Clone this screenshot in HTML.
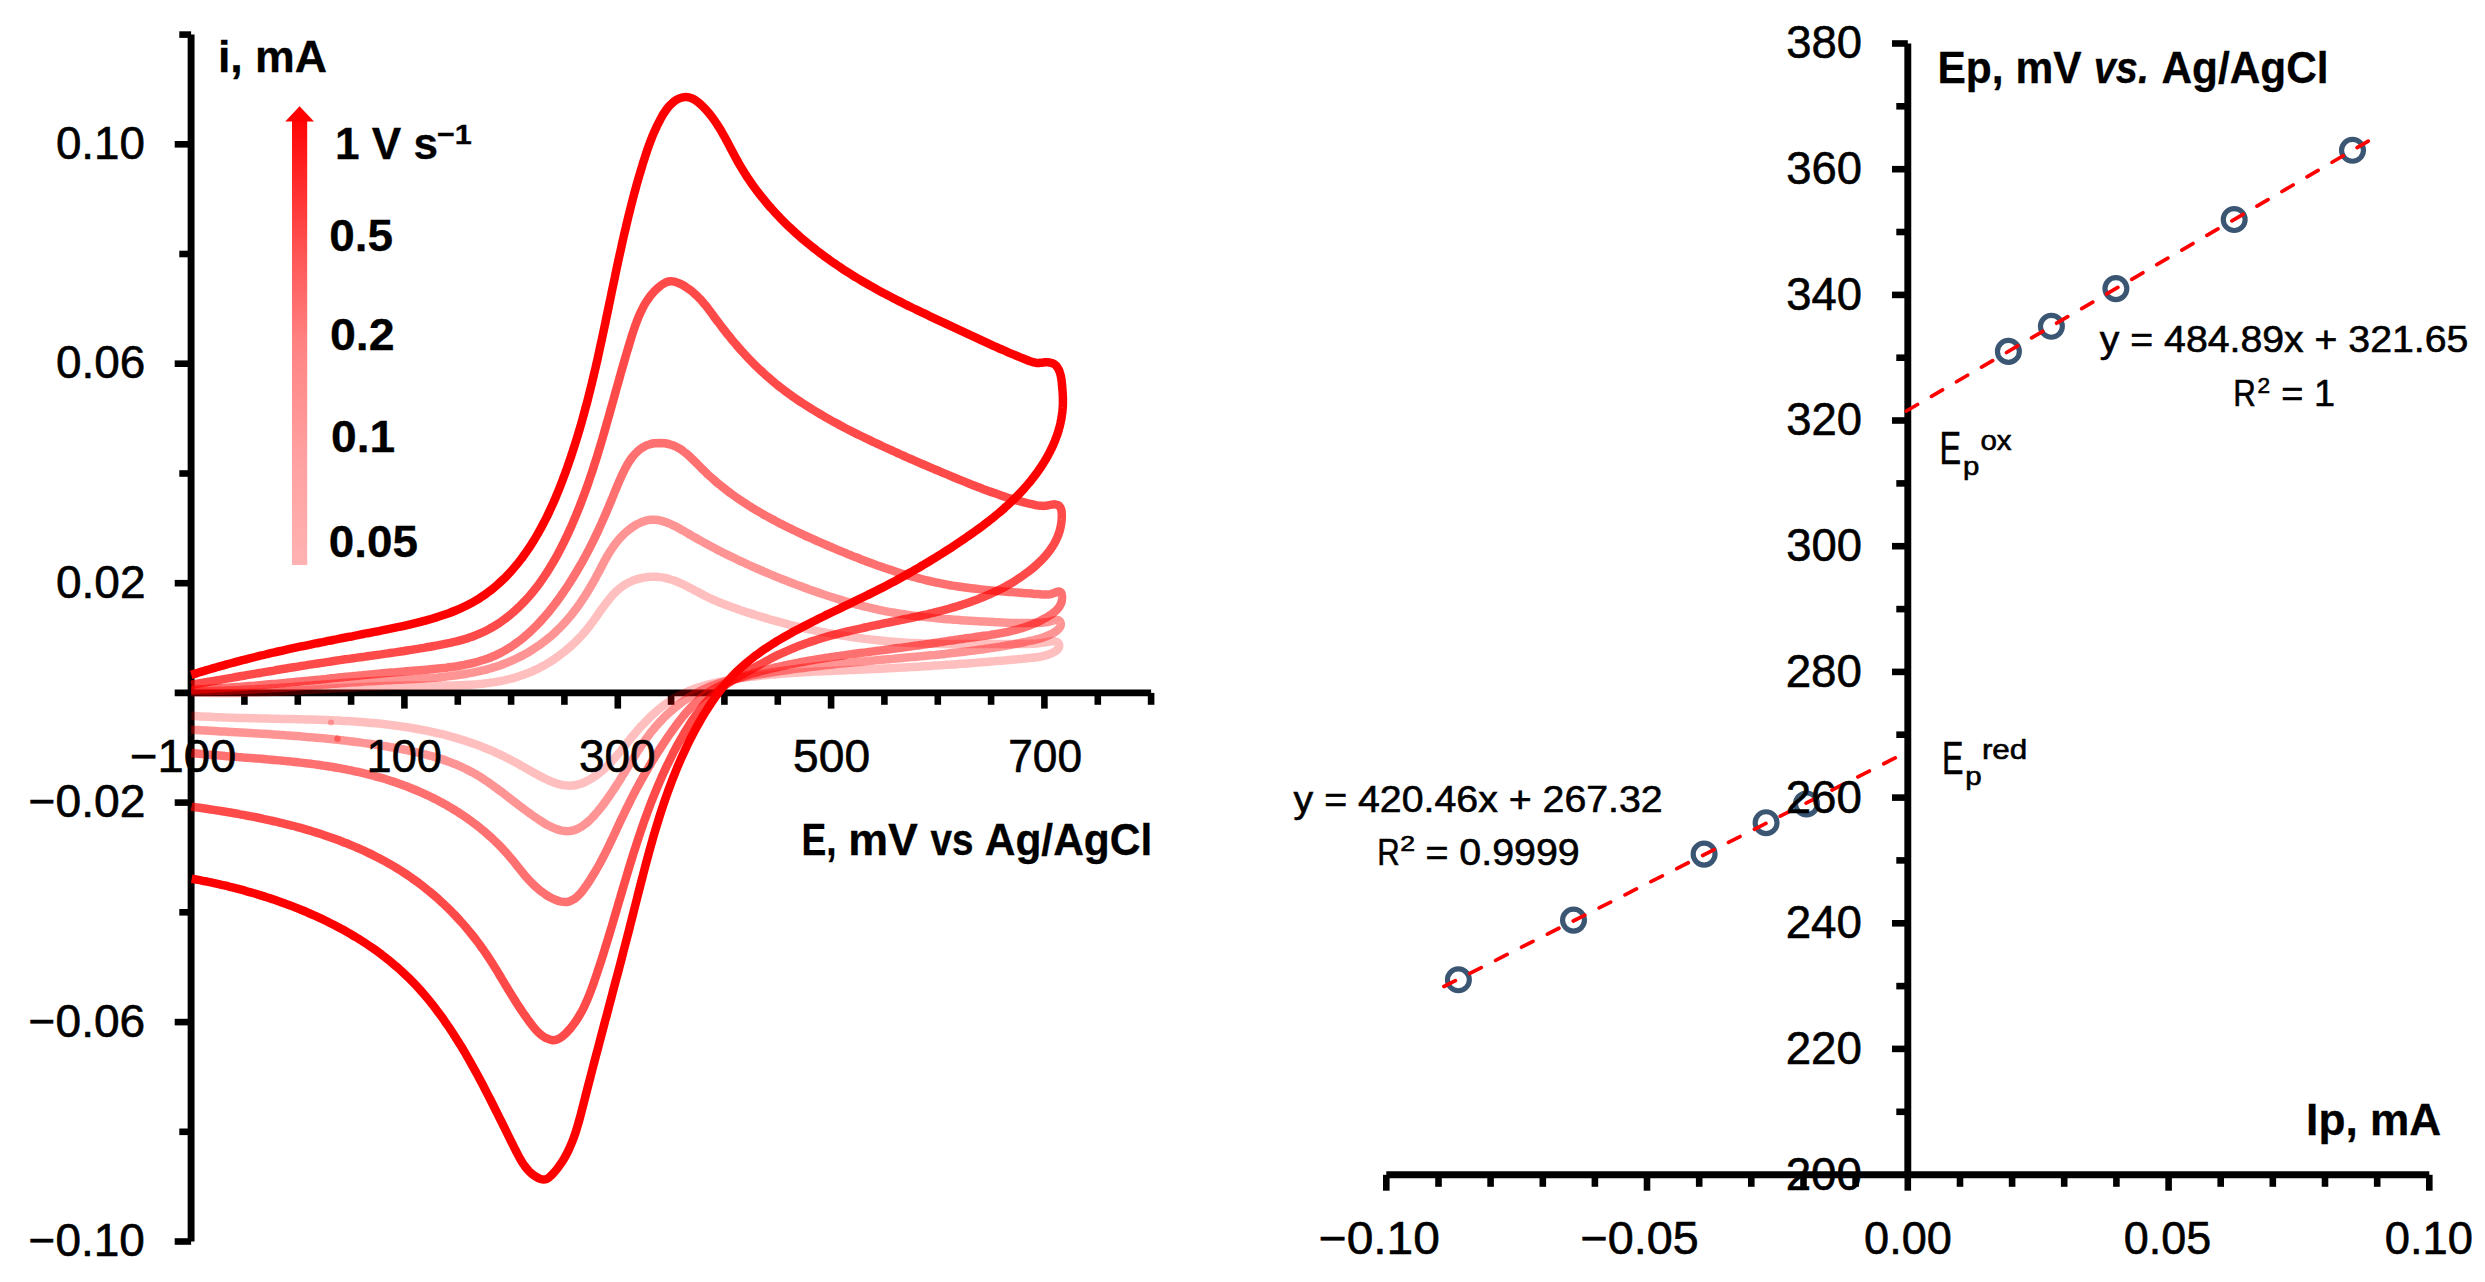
<!DOCTYPE html>
<html lang="en"><head><meta charset="utf-8"><title>Cyclic voltammetry</title>
<style>
html,body{margin:0;padding:0;background:#fff;}
body{width:2485px;height:1282px;overflow:hidden;}
svg{display:block;}
text{font-family:"Liberation Sans", sans-serif;fill:#000;stroke:#000;stroke-width:.6px;}
.b{font-weight:bold;stroke-width:.3px;}
.i{font-style:italic;}
</style></head><body>
<svg width="2485" height="1282" viewBox="0 0 2485 1282">
<defs>
<linearGradient id="ag" x1="0" y1="0" x2="0" y2="1">
<stop offset="0" stop-color="#ff0505"/><stop offset=".3" stop-color="#ff5555"/><stop offset=".5" stop-color="#ff8282"/><stop offset=".75" stop-color="#ffa0a0"/><stop offset="1" stop-color="#ffb2b2"/>
</linearGradient>
</defs>
<rect width="2485" height="1282" fill="#fff"/>

<g id="left-axes" stroke="#000" stroke-width="6.9" fill="none">
<line x1="191.1" y1="34.6" x2="191.1" y2="1241.5"/>
<line x1="179.3" y1="34.6" x2="191.1" y2="34.6" stroke-width="6.6"/>
<line x1="174.7" y1="144.3" x2="191.1" y2="144.3" stroke-width="6.6"/>
<line x1="179.3" y1="254.0" x2="191.1" y2="254.0" stroke-width="6.6"/>
<line x1="174.7" y1="363.7" x2="191.1" y2="363.7" stroke-width="6.6"/>
<line x1="179.3" y1="473.5" x2="191.1" y2="473.5" stroke-width="6.6"/>
<line x1="174.7" y1="583.2" x2="191.1" y2="583.2" stroke-width="6.6"/>
<line x1="174.7" y1="802.6" x2="191.1" y2="802.6" stroke-width="6.6"/>
<line x1="179.3" y1="912.3" x2="191.1" y2="912.3" stroke-width="6.6"/>
<line x1="174.7" y1="1022.1" x2="191.1" y2="1022.1" stroke-width="6.6"/>
<line x1="179.3" y1="1131.8" x2="191.1" y2="1131.8" stroke-width="6.6"/>
<line x1="174.7" y1="1241.5" x2="191.1" y2="1241.5" stroke-width="6.6"/>
<line x1="174.7" y1="692.9" x2="1151.1" y2="692.9"/>
<line x1="244.4" y1="692.9" x2="244.4" y2="704.8" stroke-width="6.6"/>
<line x1="297.8" y1="692.9" x2="297.8" y2="704.8" stroke-width="6.6"/>
<line x1="351.1" y1="692.9" x2="351.1" y2="704.8" stroke-width="6.6"/>
<line x1="404.4" y1="692.9" x2="404.4" y2="708.6" stroke-width="6.6"/>
<line x1="457.8" y1="692.9" x2="457.8" y2="704.8" stroke-width="6.6"/>
<line x1="511.1" y1="692.9" x2="511.1" y2="704.8" stroke-width="6.6"/>
<line x1="564.4" y1="692.9" x2="564.4" y2="704.8" stroke-width="6.6"/>
<line x1="617.8" y1="692.9" x2="617.8" y2="708.6" stroke-width="6.6"/>
<line x1="671.1" y1="692.9" x2="671.1" y2="704.8" stroke-width="6.6"/>
<line x1="724.4" y1="692.9" x2="724.4" y2="704.8" stroke-width="6.6"/>
<line x1="777.8" y1="692.9" x2="777.8" y2="704.8" stroke-width="6.6"/>
<line x1="831.1" y1="692.9" x2="831.1" y2="708.6" stroke-width="6.6"/>
<line x1="884.4" y1="692.9" x2="884.4" y2="704.8" stroke-width="6.6"/>
<line x1="937.8" y1="692.9" x2="937.8" y2="704.8" stroke-width="6.6"/>
<line x1="991.1" y1="692.9" x2="991.1" y2="704.8" stroke-width="6.6"/>
<line x1="1044.4" y1="692.9" x2="1044.4" y2="708.6" stroke-width="6.6"/>
<line x1="1097.8" y1="692.9" x2="1097.8" y2="704.8" stroke-width="6.6"/>
<line x1="1151.1" y1="692.9" x2="1151.1" y2="704.8" stroke-width="6.6"/>
</g>
<g id="arrow"><rect x="292" y="120" width="15.2" height="445" fill="url(#ag)"/><path d="M285.2 121.5L299.6 106.3L314 121.5Z" fill="#ff0000"/></g>
<circle cx="331" cy="722.5" r="3" fill="#ff9090" opacity=".6"/><circle cx="337.5" cy="738.7" r="3.2" fill="#ff7070" opacity=".7"/>
<g id="cv" fill="none" stroke="#ff0000" stroke-width="8.5" stroke-linecap="butt" stroke-linejoin="round">
<path d="M191.2 692.3C192.0 692.3 194.4 692.4 195.9 692.5C197.5 692.6 199.1 692.6 200.7 692.7C202.2 692.7 203.8 692.8 205.4 692.8C207.0 692.8 208.5 692.9 210.1 692.9C211.7 692.9 213.2 692.9 214.8 693.0C216.3 693.0 217.9 693.0 219.5 693.0C221.0 693.0 222.6 693.0 224.1 693.0C225.7 693.0 227.2 693.0 228.8 693.0C230.3 693.0 231.9 693.0 233.4 693.0C235.0 693.0 236.5 692.9 238.1 692.9C239.6 692.9 241.1 692.9 242.7 692.8C244.2 692.8 245.8 692.8 247.3 692.7C248.8 692.7 250.4 692.7 251.9 692.6C253.4 692.6 255.0 692.5 256.5 692.5C258.0 692.4 259.6 692.4 261.1 692.3C262.6 692.3 264.1 692.2 265.7 692.2C267.2 692.1 268.7 692.0 270.2 692.0C271.8 691.9 273.3 691.8 274.8 691.8C276.3 691.7 277.9 691.6 279.4 691.5C280.9 691.5 282.4 691.4 283.9 691.3C285.5 691.2 287.0 691.2 288.5 691.1C290.0 691.0 291.5 690.9 293.1 690.8C294.6 690.8 296.1 690.7 297.6 690.6C299.1 690.5 300.6 690.4 302.2 690.3C303.7 690.2 305.2 690.2 306.7 690.1C308.2 690.0 309.8 689.9 311.3 689.8C312.8 689.7 314.3 689.6 315.8 689.5C317.3 689.4 318.8 689.4 320.4 689.3C321.9 689.2 323.4 689.1 324.9 689.0C326.4 688.9 328.0 688.8 329.5 688.7C331.0 688.6 332.5 688.6 334.0 688.5C335.5 688.4 337.1 688.3 338.6 688.2C340.1 688.1 341.6 688.0 343.1 687.9C344.7 687.9 346.2 687.8 347.7 687.7C349.2 687.6 350.8 687.5 352.3 687.5C353.8 687.4 355.3 687.3 356.9 687.2C358.4 687.1 359.9 687.1 361.4 687.0C363.0 686.9 364.5 686.9 366.0 686.8C367.6 686.7 369.1 686.7 370.6 686.6C372.2 686.5 373.7 686.5 375.2 686.4C376.8 686.3 378.3 686.3 379.8 686.2C381.4 686.2 382.9 686.1 384.5 686.1C386.0 686.0 387.5 686.0 389.1 685.9C390.6 685.9 392.2 685.9 393.7 685.8C395.3 685.8 396.8 685.8 398.4 685.7C399.9 685.7 401.5 685.7 403.0 685.7C404.6 685.6 406.2 685.6 407.7 685.6C409.3 685.6 410.8 685.6 412.4 685.6C414.0 685.6 415.5 685.6 417.1 685.6C418.7 685.6 420.2 685.6 421.8 685.6C423.4 685.6 425.0 685.6 426.5 685.6C428.1 685.6 429.7 685.6 431.2 685.6C432.8 685.6 434.4 685.6 436.0 685.6C437.5 685.6 439.1 685.6 440.7 685.6C442.3 685.6 443.8 685.6 445.4 685.5C447.0 685.5 448.5 685.5 450.1 685.5C451.7 685.4 453.2 685.4 454.8 685.4C456.4 685.3 457.9 685.3 459.5 685.2C461.1 685.2 462.6 685.1 464.2 685.0C465.7 685.0 467.3 684.9 468.8 684.8C470.4 684.7 471.9 684.6 473.5 684.5C475.0 684.4 476.6 684.3 478.1 684.1C479.6 684.0 481.2 683.8 482.7 683.7C484.2 683.5 485.8 683.3 487.3 683.1C488.8 682.9 490.3 682.7 491.8 682.5C493.3 682.3 494.8 682.1 496.3 681.8C497.8 681.5 499.3 681.3 500.8 681.0C502.3 680.7 503.8 680.4 505.3 680.0C506.7 679.7 508.2 679.4 509.7 679.0C511.1 678.6 512.6 678.2 514.1 677.8C515.5 677.4 517.0 677.0 518.4 676.5C519.8 676.0 521.3 675.6 522.7 675.1C524.1 674.6 525.5 674.0 526.9 673.5C528.3 672.9 529.7 672.4 531.1 671.8C532.5 671.2 533.9 670.5 535.2 669.9C536.6 669.3 538.0 668.6 539.3 667.9C540.7 667.2 542.0 666.5 543.3 665.8C544.7 665.0 546.0 664.3 547.3 663.5C548.6 662.7 549.9 661.9 551.2 661.1C552.5 660.3 553.8 659.4 555.0 658.6C556.3 657.7 557.5 656.8 558.8 655.9C560.0 655.0 561.2 654.1 562.4 653.2C563.7 652.2 564.9 651.3 566.1 650.3C567.2 649.3 568.4 648.3 569.6 647.3C570.7 646.3 571.9 645.2 573.0 644.2C574.1 643.1 575.3 642.0 576.4 640.9C577.5 639.8 578.6 638.7 579.6 637.6C580.7 636.5 581.8 635.3 582.8 634.1C583.8 633.0 584.9 631.8 585.9 630.6C586.9 629.4 587.9 628.1 588.9 626.9C589.8 625.7 590.8 624.4 591.7 623.1C592.7 621.9 593.6 620.6 594.5 619.3C595.5 618.0 596.4 616.7 597.3 615.4C598.2 614.1 599.1 612.8 600.0 611.5C600.9 610.2 601.8 608.9 602.7 607.7C603.7 606.4 604.6 605.1 605.5 603.9C606.4 602.6 607.4 601.4 608.4 600.2C609.3 599.0 610.3 597.8 611.3 596.7C612.3 595.5 613.3 594.4 614.4 593.3C615.4 592.3 616.5 591.2 617.6 590.2C618.7 589.2 619.9 588.2 621.1 587.3C622.3 586.4 623.5 585.6 624.7 584.8C626.0 584.0 627.3 583.2 628.7 582.5C630.0 581.8 631.4 581.2 632.8 580.6C634.2 580.1 635.7 579.6 637.2 579.1C638.7 578.7 640.2 578.3 641.7 578.0C643.2 577.6 644.7 577.4 646.3 577.2C647.8 577.0 649.4 576.8 650.9 576.8C652.5 576.7 654.0 576.7 655.6 576.7C657.1 576.8 658.6 576.9 660.2 577.1C661.7 577.3 663.2 577.5 664.7 577.9C666.1 578.2 667.6 578.5 669.1 579.0C670.5 579.4 672.0 579.8 673.4 580.3C674.8 580.8 676.3 581.4 677.7 582.0C679.1 582.6 680.5 583.2 681.9 583.8C683.3 584.5 684.7 585.2 686.1 585.8C687.5 586.5 688.9 587.3 690.3 588.0C691.7 588.7 693.0 589.4 694.4 590.2C695.8 590.9 697.2 591.7 698.6 592.4C700.0 593.1 701.3 593.9 702.7 594.6C704.1 595.3 705.5 596.0 706.9 596.7C708.3 597.4 709.7 598.1 711.1 598.8C712.6 599.4 714.0 600.1 715.4 600.7C716.8 601.3 718.3 601.9 719.7 602.5C721.1 603.0 722.6 603.6 724.0 604.2C725.4 604.7 726.9 605.3 728.3 605.8C729.8 606.3 731.2 606.9 732.7 607.4C734.1 607.9 735.6 608.4 737.1 608.9C738.5 609.4 740.0 609.9 741.4 610.4C742.9 610.9 744.3 611.4 745.8 611.9C747.3 612.4 748.7 612.8 750.2 613.3C751.7 613.8 753.1 614.3 754.6 614.7C756.0 615.2 757.5 615.6 759.0 616.1C760.5 616.5 761.9 617.0 763.4 617.4C764.9 617.9 766.3 618.3 767.8 618.7C769.3 619.2 770.8 619.6 772.2 620.0C773.7 620.4 775.2 620.8 776.7 621.2C778.2 621.6 779.6 622.0 781.1 622.4C782.6 622.8 784.1 623.2 785.6 623.6C787.0 624.0 788.5 624.4 790.0 624.8C791.5 625.1 793.0 625.5 794.5 625.9C796.0 626.2 797.5 626.6 799.0 626.9C800.5 627.3 801.9 627.6 803.4 628.0C804.9 628.3 806.4 628.6 807.9 629.0C809.4 629.3 810.9 629.6 812.4 629.9C813.9 630.3 815.4 630.6 816.9 630.9C818.4 631.2 819.9 631.5 821.4 631.8C822.9 632.1 824.4 632.4 826.0 632.7C827.5 633.0 829.0 633.2 830.5 633.5C832.0 633.8 833.5 634.1 835.0 634.3C836.5 634.6 838.0 634.8 839.6 635.1C841.1 635.3 842.6 635.6 844.1 635.8C845.6 636.1 847.1 636.3 848.7 636.5C850.2 636.8 851.7 637.0 853.2 637.2C854.7 637.4 856.3 637.7 857.8 637.9C859.3 638.1 860.8 638.3 862.4 638.5C863.9 638.7 865.4 638.9 866.9 639.1C868.5 639.2 870.0 639.4 871.5 639.6C873.1 639.8 874.6 639.9 876.1 640.1C877.7 640.3 879.2 640.4 880.7 640.6C882.3 640.7 883.8 640.9 885.3 641.0C886.9 641.2 888.4 641.3 890.0 641.4C891.5 641.6 893.0 641.7 894.6 641.8C896.1 641.9 897.7 642.1 899.2 642.2C900.7 642.3 902.3 642.4 903.8 642.5C905.4 642.6 906.9 642.7 908.5 642.8C910.0 642.8 911.6 642.9 913.1 643.0C914.7 643.1 916.2 643.1 917.8 643.2C919.3 643.3 920.9 643.3 922.4 643.4C924.0 643.5 925.6 643.5 927.1 643.6C928.7 643.6 930.2 643.6 931.8 643.7C933.3 643.7 934.9 643.8 936.4 643.8C938.0 643.8 939.5 643.8 941.1 643.9C942.7 643.9 944.2 643.9 945.8 643.9C947.3 643.9 948.9 644.0 950.4 644.0C952.0 644.0 953.5 644.0 955.1 644.0C956.6 644.0 958.1 644.0 959.7 644.0C961.2 644.0 962.8 644.0 964.3 644.0C965.9 644.0 967.4 644.0 968.9 644.0C970.5 644.0 972.0 644.0 973.5 644.0C975.1 644.0 976.6 644.0 978.1 644.0C979.6 644.0 981.2 644.0 982.7 644.0C984.2 644.0 985.7 644.0 987.2 644.0C988.7 644.0 990.2 644.0 991.8 644.0C993.3 644.0 994.8 644.0 996.3 644.0C997.8 644.0 999.2 644.0 1000.7 644.0C1002.2 644.0 1003.7 644.0 1005.2 644.0C1006.7 644.0 1008.1 644.0 1009.6 644.0C1011.1 644.0 1012.6 644.0 1014.0 644.0C1015.5 644.1 1016.9 644.1 1018.4 644.1C1019.9 644.1 1021.3 644.1 1022.8 644.1C1024.3 644.1 1025.8 644.1 1027.3 644.0C1028.8 644.0 1030.3 643.9 1031.9 643.8C1033.5 643.7 1035.0 643.6 1036.7 643.5C1038.3 643.3 1040.0 643.1 1041.7 642.9C1043.4 642.7 1045.9 642.3 1046.8 642.1C1047.7 642.0 1046.7 642.1 1046.9 642.1C1047.2 642.1 1047.8 642.0 1048.2 641.9C1048.7 641.8 1049.2 641.7 1049.6 641.6C1050.1 641.6 1050.6 641.5 1051.0 641.4C1051.5 641.4 1052.1 641.3 1052.3 641.3C1052.5 641.3 1052.1 641.3 1052.4 641.3C1052.6 641.3 1053.2 641.2 1053.6 641.2C1054.1 641.2 1054.5 641.2 1054.8 641.3C1055.2 641.3 1055.6 641.4 1055.9 641.5C1056.3 641.6 1056.6 641.7 1056.7 641.8C1056.9 641.9 1056.7 641.8 1056.9 641.9C1057.1 642.0 1057.5 642.2 1057.7 642.5C1058.0 642.7 1058.2 643.0 1058.4 643.2C1058.6 643.5 1058.8 643.9 1058.9 644.2C1059.0 644.5 1059.0 644.7 1059.1 644.9C1059.1 645.1 1059.1 645.0 1059.1 645.3C1059.1 645.5 1059.2 646.0 1059.1 646.3C1059.1 646.7 1059.0 647.0 1058.9 647.4C1058.8 647.7 1058.6 648.1 1058.4 648.3C1058.3 648.6 1058.2 648.6 1058.1 648.8C1058.0 648.9 1058.0 649.0 1057.8 649.2C1057.6 649.4 1057.2 649.8 1056.9 650.1C1056.6 650.3 1056.3 650.6 1055.9 650.9C1055.6 651.1 1055.1 651.4 1054.8 651.6C1054.5 651.7 1054.6 651.7 1054.4 651.8C1054.2 652.0 1053.9 652.1 1053.6 652.3C1053.3 652.4 1052.8 652.7 1052.4 652.9C1052.0 653.1 1051.6 653.3 1051.2 653.4C1050.7 653.6 1050.2 653.9 1049.9 654.0C1049.7 654.1 1049.9 654.0 1049.7 654.1C1049.5 654.1 1049.1 654.3 1048.7 654.4C1048.4 654.6 1047.9 654.7 1047.5 654.9C1047.1 655.0 1046.7 655.1 1046.3 655.2C1045.9 655.4 1045.3 655.5 1045.1 655.6C1044.9 655.7 1045.2 655.6 1045.0 655.6C1044.8 655.7 1044.3 655.8 1043.9 655.9C1043.5 656.0 1043.1 656.1 1042.7 656.2C1042.3 656.3 1041.9 656.4 1041.6 656.4C1041.2 656.5 1040.7 656.6 1040.5 656.6C1040.3 656.7 1040.6 656.6 1040.4 656.7C1040.2 656.7 1039.6 656.8 1039.2 656.9C1038.8 656.9 1038.5 657.0 1038.1 657.0C1037.7 657.1 1037.3 657.2 1036.9 657.2C1036.6 657.2 1036.2 657.3 1036.0 657.3C1035.8 657.3 1036.0 657.3 1035.7 657.4C1035.5 657.4 1035.0 657.4 1034.6 657.5C1034.2 657.5 1033.8 657.6 1033.4 657.6C1033.1 657.7 1032.6 657.7 1032.3 657.7C1032.0 657.8 1031.7 657.8 1031.5 657.8C1031.3 657.8 1031.9 657.8 1031.1 657.8C1030.4 657.9 1028.5 658.1 1027.1 658.2C1025.7 658.4 1024.1 658.5 1022.6 658.7C1021.1 658.8 1019.6 659.0 1018.1 659.1C1016.6 659.3 1015.1 659.4 1013.6 659.5C1012.1 659.7 1010.6 659.8 1009.1 659.9C1007.6 660.1 1006.1 660.2 1004.5 660.4C1003.0 660.5 1001.5 660.6 1000.0 660.8C998.5 660.9 997.0 661.0 995.4 661.1C993.9 661.3 992.4 661.4 990.9 661.5C989.3 661.7 987.8 661.8 986.3 661.9C984.8 662.0 983.2 662.2 981.7 662.3C980.2 662.4 978.6 662.5 977.1 662.6C975.6 662.8 974.0 662.9 972.5 663.0C970.9 663.1 969.4 663.2 967.9 663.4C966.3 663.5 964.8 663.6 963.2 663.7C961.7 663.8 960.1 663.9 958.6 664.0C957.1 664.1 955.5 664.3 954.0 664.4C952.4 664.5 950.9 664.6 949.3 664.7C947.8 664.8 946.2 664.9 944.7 665.0C943.1 665.1 941.6 665.2 940.0 665.3C938.5 665.4 936.9 665.5 935.4 665.6C933.8 665.7 932.3 665.8 930.7 665.9C929.2 666.0 927.6 666.1 926.0 666.2C924.5 666.3 922.9 666.4 921.4 666.5C919.8 666.6 918.3 666.7 916.7 666.8C915.2 666.9 913.6 666.9 912.1 667.0C910.5 667.1 908.9 667.2 907.4 667.3C905.8 667.4 904.3 667.5 902.7 667.6C901.2 667.6 899.6 667.7 898.1 667.8C896.5 667.9 895.0 668.0 893.4 668.1C891.9 668.1 890.3 668.2 888.8 668.3C887.2 668.4 885.7 668.5 884.1 668.5C882.6 668.6 881.0 668.7 879.5 668.8C877.9 668.8 876.4 668.9 874.8 669.0C873.3 669.1 871.7 669.1 870.2 669.2C868.6 669.3 867.1 669.3 865.5 669.4C864.0 669.5 862.5 669.5 860.9 669.6C859.4 669.7 857.8 669.7 856.3 669.8C854.8 669.9 853.2 669.9 851.7 670.0C850.2 670.1 848.6 670.1 847.1 670.2C845.6 670.3 844.0 670.3 842.5 670.4C841.0 670.5 839.4 670.5 837.9 670.6C836.4 670.7 834.9 670.7 833.3 670.8C831.8 670.9 830.3 670.9 828.7 671.0C827.2 671.1 825.7 671.1 824.2 671.2C822.6 671.3 821.1 671.3 819.6 671.4C818.1 671.5 816.5 671.6 815.0 671.6C813.5 671.7 812.0 671.8 810.4 671.9C808.9 672.0 807.4 672.0 805.9 672.1C804.3 672.2 802.8 672.3 801.3 672.4C799.8 672.5 798.3 672.6 796.7 672.7C795.2 672.8 793.7 672.9 792.2 673.0C790.6 673.1 789.1 673.2 787.6 673.3C786.1 673.4 784.5 673.5 783.0 673.6C781.5 673.8 780.0 673.9 778.4 674.0C776.9 674.1 775.4 674.3 773.9 674.4C772.3 674.5 770.8 674.7 769.3 674.8C767.8 675.0 766.2 675.1 764.7 675.3C763.2 675.4 761.6 675.6 760.1 675.8C758.6 675.9 757.1 676.1 755.5 676.3C754.0 676.4 752.5 676.6 750.9 676.8C749.4 677.0 747.8 677.2 746.3 677.4C744.8 677.6 743.2 677.8 741.7 678.0C740.2 678.2 738.6 678.5 737.1 678.7C735.6 678.9 734.0 679.2 732.5 679.4C731.0 679.7 729.4 679.9 727.9 680.2C726.4 680.5 724.8 680.8 723.3 681.1C721.8 681.4 720.3 681.7 718.8 682.0C717.2 682.3 715.7 682.7 714.2 683.0C712.7 683.4 711.2 683.7 709.7 684.1C708.3 684.5 706.8 684.9 705.3 685.4C703.8 685.8 702.3 686.2 700.9 686.7C699.4 687.2 698.0 687.6 696.5 688.1C695.1 688.6 693.7 689.2 692.2 689.7C690.8 690.3 689.4 690.8 688.0 691.4C686.6 692.0 685.2 692.7 683.8 693.3C682.5 694.0 681.1 694.6 679.7 695.3C678.4 696.0 677.1 696.7 675.7 697.5C674.4 698.3 673.1 699.0 671.8 699.8C670.5 700.7 669.2 701.5 668.0 702.4C666.7 703.2 665.5 704.1 664.2 705.0C663.0 706.0 661.8 706.9 660.6 707.9C659.4 708.8 658.2 709.8 657.0 710.8C655.8 711.8 654.7 712.9 653.5 713.9C652.4 715.0 651.2 716.0 650.1 717.1C649.0 718.2 647.9 719.3 646.8 720.4C645.7 721.5 644.6 722.6 643.5 723.8C642.5 724.9 641.4 726.0 640.3 727.2C639.3 728.3 638.3 729.5 637.2 730.7C636.2 731.9 635.2 733.0 634.2 734.2C633.2 735.4 632.2 736.6 631.2 737.8C630.3 739.0 629.3 740.2 628.3 741.4C627.4 742.6 626.4 743.7 625.5 744.9C624.5 746.1 623.6 747.3 622.6 748.5C621.7 749.7 620.7 750.9 619.7 752.1C618.8 753.2 617.8 754.4 616.8 755.6C615.8 756.7 614.9 757.9 613.8 759.0C612.8 760.1 611.8 761.3 610.8 762.4C609.7 763.5 608.6 764.6 607.5 765.7C606.4 766.8 605.3 767.8 604.2 768.9C603.0 769.9 601.8 771.0 600.6 772.0C599.4 773.0 598.1 774.0 596.9 774.9C595.6 775.9 594.3 776.8 593.0 777.6C591.6 778.5 590.3 779.3 588.9 780.1C587.6 780.8 586.2 781.5 584.8 782.1C583.4 782.8 582.0 783.3 580.6 783.8C579.1 784.3 577.7 784.7 576.3 785.0C574.8 785.3 573.4 785.5 571.9 785.6C570.5 785.7 569.0 785.7 567.5 785.6C566.1 785.5 564.6 785.4 563.2 785.1C561.7 784.8 560.2 784.5 558.8 784.1C557.3 783.7 555.8 783.2 554.4 782.7C552.9 782.2 551.5 781.6 550.0 781.0C548.6 780.4 547.1 779.7 545.7 779.0C544.2 778.3 542.8 777.6 541.4 776.8C539.9 776.1 538.5 775.3 537.1 774.5C535.7 773.8 534.3 773.0 532.9 772.2C531.5 771.4 530.1 770.6 528.7 769.9C527.3 769.1 526.0 768.3 524.6 767.5C523.2 766.7 521.9 766.0 520.5 765.2C519.1 764.4 517.8 763.7 516.4 762.9C515.1 762.2 513.7 761.4 512.3 760.7C511.0 760.0 509.6 759.3 508.2 758.6C506.9 757.9 505.5 757.2 504.1 756.5C502.7 755.8 501.4 755.1 500.0 754.5C498.6 753.8 497.2 753.2 495.8 752.6C494.4 751.9 493.0 751.3 491.6 750.7C490.2 750.1 488.8 749.5 487.4 748.9C486.0 748.4 484.6 747.8 483.1 747.2C481.7 746.7 480.3 746.1 478.9 745.6C477.5 745.0 476.0 744.5 474.6 744.0C473.2 743.5 471.7 743.0 470.3 742.5C468.9 742.0 467.4 741.5 466.0 741.1C464.5 740.6 463.1 740.1 461.6 739.7C460.2 739.2 458.7 738.8 457.3 738.4C455.8 737.9 454.3 737.5 452.9 737.1C451.4 736.7 450.0 736.3 448.5 735.9C447.0 735.5 445.5 735.1 444.1 734.7C442.6 734.4 441.1 734.0 439.6 733.7C438.2 733.3 436.7 733.0 435.2 732.6C433.7 732.3 432.2 731.9 430.7 731.6C429.2 731.3 427.7 731.0 426.2 730.7C424.8 730.4 423.3 730.1 421.8 729.8C420.3 729.5 418.8 729.2 417.2 729.0C415.7 728.7 414.2 728.4 412.7 728.2C411.2 727.9 409.7 727.7 408.2 727.4C406.7 727.2 405.2 727.0 403.6 726.7C402.1 726.5 400.6 726.3 399.1 726.1C397.6 725.9 396.0 725.7 394.5 725.5C393.0 725.3 391.5 725.1 389.9 724.9C388.4 724.7 386.9 724.5 385.4 724.3C383.8 724.2 382.3 724.0 380.8 723.8C379.2 723.7 377.7 723.5 376.2 723.3C374.6 723.2 373.1 723.0 371.5 722.9C370.0 722.8 368.5 722.6 366.9 722.5C365.4 722.4 363.8 722.2 362.3 722.1C360.8 722.0 359.2 721.9 357.7 721.8C356.1 721.7 354.6 721.5 353.0 721.4C351.5 721.3 349.9 721.2 348.4 721.1C346.8 721.1 345.3 721.0 343.7 720.9C342.2 720.8 340.6 720.7 339.1 720.6C337.5 720.5 336.0 720.5 334.4 720.4C332.9 720.3 331.3 720.3 329.8 720.2C328.2 720.1 326.6 720.1 325.1 720.0C323.5 719.9 322.0 719.9 320.4 719.8C318.9 719.8 317.3 719.7 315.8 719.7C314.2 719.6 312.7 719.6 311.1 719.5C309.5 719.5 308.0 719.4 306.4 719.4C304.9 719.3 303.3 719.3 301.8 719.3C300.2 719.2 298.7 719.2 297.1 719.2C295.5 719.1 294.0 719.1 292.4 719.0C290.9 719.0 289.3 719.0 287.8 719.0C286.2 718.9 284.7 718.9 283.1 718.9C281.6 718.8 280.0 718.8 278.5 718.8C276.9 718.7 275.4 718.7 273.8 718.7C272.3 718.7 270.7 718.6 269.2 718.6C267.6 718.6 266.1 718.5 264.5 718.5C263.0 718.5 261.4 718.4 259.9 718.4C258.3 718.4 256.8 718.4 255.3 718.3C253.7 718.3 252.2 718.3 250.6 718.2C249.1 718.2 247.6 718.2 246.0 718.1C244.5 718.1 242.9 718.0 241.4 718.0C239.9 718.0 238.3 717.9 236.8 717.9C235.3 717.8 233.7 717.8 232.2 717.7C230.7 717.7 229.2 717.6 227.6 717.6C226.1 717.5 224.6 717.5 223.1 717.4C221.5 717.4 220.0 717.3 218.5 717.3C217.0 717.2 215.5 717.1 214.0 717.1C212.4 717.0 210.9 716.9 209.4 716.8C207.9 716.8 206.4 716.7 204.9 716.6C203.4 716.5 201.9 716.4 200.4 716.4C198.9 716.3 197.4 716.2 195.9 716.1C194.4 716.0 192.2 715.8 191.4 715.8" stroke-opacity="0.25"/>
<path d="M191.2 691.0C192.0 691.0 194.5 691.0 196.1 691.0C197.8 691.0 199.4 691.0 201.0 691.0C202.7 691.0 204.3 691.0 205.9 691.0C207.6 691.0 209.2 690.9 210.8 690.9C212.5 690.9 214.1 690.9 215.7 690.8C217.3 690.8 219.0 690.8 220.6 690.7C222.2 690.7 223.8 690.6 225.4 690.6C227.0 690.5 228.7 690.5 230.3 690.4C231.9 690.4 233.5 690.3 235.1 690.3C236.7 690.2 238.3 690.1 239.9 690.1C241.5 690.0 243.1 689.9 244.7 689.8C246.3 689.8 247.9 689.7 249.5 689.6C251.1 689.5 252.7 689.4 254.3 689.4C255.9 689.3 257.5 689.2 259.1 689.1C260.7 689.0 262.3 688.9 263.9 688.8C265.5 688.7 267.1 688.6 268.7 688.5C270.3 688.4 271.8 688.3 273.4 688.2C275.0 688.1 276.6 688.0 278.2 687.9C279.8 687.8 281.4 687.7 283.0 687.6C284.6 687.5 286.1 687.3 287.7 687.2C289.3 687.1 290.9 687.0 292.5 686.9C294.1 686.8 295.7 686.7 297.3 686.5C298.8 686.4 300.4 686.3 302.0 686.2C303.6 686.1 305.2 686.0 306.8 685.8C308.4 685.7 309.9 685.6 311.5 685.5C313.1 685.4 314.7 685.2 316.3 685.1C317.9 685.0 319.5 684.9 321.1 684.7C322.7 684.6 324.2 684.5 325.8 684.4C327.4 684.3 329.0 684.1 330.6 684.0C332.2 683.9 333.8 683.8 335.4 683.7C337.0 683.5 338.6 683.4 340.2 683.3C341.8 683.2 343.4 683.1 345.0 683.0C346.6 682.8 348.2 682.7 349.8 682.6C351.4 682.5 353.0 682.4 354.6 682.3C356.2 682.2 357.8 682.1 359.4 682.0C361.0 681.9 362.6 681.7 364.2 681.6C365.8 681.5 367.4 681.4 369.0 681.3C370.6 681.2 372.3 681.1 373.9 681.0C375.5 680.9 377.1 680.9 378.7 680.8C380.4 680.7 382.0 680.6 383.6 680.5C385.2 680.4 386.9 680.3 388.5 680.2C390.1 680.2 391.7 680.1 393.4 680.0C395.0 679.9 396.6 679.8 398.3 679.8C399.9 679.7 401.6 679.6 403.2 679.5C404.8 679.5 406.5 679.4 408.1 679.3C409.7 679.2 411.4 679.1 413.0 679.0C414.7 678.9 416.3 678.9 417.9 678.8C419.6 678.7 421.2 678.6 422.8 678.5C424.5 678.4 426.1 678.2 427.7 678.1C429.4 678.0 431.0 677.9 432.6 677.8C434.3 677.6 435.9 677.5 437.5 677.4C439.1 677.2 440.8 677.1 442.4 676.9C444.0 676.7 445.6 676.6 447.2 676.4C448.9 676.2 450.5 676.0 452.1 675.8C453.7 675.6 455.3 675.4 456.9 675.2C458.5 675.0 460.1 674.8 461.7 674.5C463.3 674.3 464.9 674.0 466.5 673.7C468.0 673.5 469.6 673.2 471.2 672.9C472.8 672.6 474.3 672.3 475.9 671.9C477.5 671.6 479.0 671.3 480.6 670.9C482.1 670.5 483.7 670.2 485.2 669.8C486.8 669.4 488.3 668.9 489.8 668.5C491.3 668.1 492.9 667.6 494.4 667.2C495.9 666.7 497.4 666.2 498.9 665.7C500.4 665.2 501.9 664.6 503.4 664.1C504.9 663.5 506.3 663.0 507.8 662.4C509.3 661.8 510.7 661.2 512.2 660.5C513.6 659.9 515.1 659.2 516.5 658.5C517.9 657.8 519.4 657.1 520.8 656.4C522.2 655.7 523.6 654.9 525.0 654.1C526.4 653.4 527.8 652.6 529.1 651.8C530.5 650.9 531.9 650.1 533.2 649.2C534.5 648.4 535.9 647.5 537.2 646.6C538.5 645.7 539.8 644.8 541.1 643.8C542.4 642.9 543.7 641.9 545.0 640.9C546.2 640.0 547.5 639.0 548.7 637.9C550.0 636.9 551.2 635.9 552.4 634.8C553.6 633.7 554.8 632.6 556.0 631.5C557.1 630.4 558.3 629.3 559.5 628.2C560.6 627.0 561.7 625.8 562.8 624.7C563.9 623.5 565.0 622.3 566.1 621.1C567.2 619.9 568.3 618.6 569.3 617.4C570.4 616.1 571.4 614.9 572.4 613.6C573.4 612.3 574.4 611.0 575.4 609.7C576.4 608.4 577.3 607.1 578.3 605.8C579.3 604.4 580.2 603.1 581.1 601.7C582.0 600.4 582.9 599.0 583.8 597.7C584.7 596.3 585.6 594.9 586.5 593.5C587.4 592.2 588.2 590.8 589.0 589.4C589.9 588.0 590.7 586.6 591.5 585.2C592.3 583.8 593.1 582.4 593.9 581.0C594.7 579.6 595.5 578.2 596.2 576.7C597.0 575.3 597.7 573.9 598.5 572.5C599.2 571.1 599.9 569.7 600.7 568.3C601.4 566.9 602.1 565.5 602.9 564.1C603.6 562.7 604.3 561.3 605.1 559.9C605.9 558.5 606.6 557.2 607.4 555.8C608.2 554.4 609.0 553.1 609.9 551.7C610.7 550.4 611.6 549.1 612.5 547.8C613.4 546.4 614.3 545.2 615.3 543.9C616.2 542.6 617.2 541.3 618.3 540.1C619.4 538.8 620.5 537.6 621.6 536.4C622.8 535.2 624.0 534.0 625.2 532.9C626.5 531.7 627.8 530.6 629.1 529.6C630.5 528.5 631.8 527.5 633.2 526.6C634.6 525.7 636.1 524.8 637.5 524.0C639.0 523.3 640.4 522.6 641.9 522.0C643.4 521.4 644.9 520.9 646.3 520.5C647.8 520.2 649.3 520.0 650.8 519.8C652.3 519.7 653.8 519.7 655.2 519.8C656.7 519.9 658.2 520.1 659.6 520.4C661.1 520.7 662.6 521.1 664.1 521.6C665.5 522.0 667.0 522.6 668.4 523.1C669.9 523.7 671.4 524.4 672.8 525.1C674.3 525.8 675.7 526.5 677.2 527.3C678.6 528.1 680.1 528.9 681.5 529.7C683.0 530.5 684.4 531.4 685.9 532.2C687.3 533.1 688.8 533.9 690.2 534.8C691.7 535.6 693.1 536.5 694.6 537.3C696.0 538.1 697.4 538.9 698.9 539.7C700.3 540.5 701.8 541.3 703.2 542.1C704.6 542.9 706.1 543.7 707.5 544.5C709.0 545.3 710.4 546.0 711.8 546.8C713.3 547.6 714.7 548.3 716.1 549.1C717.6 549.8 719.0 550.6 720.5 551.3C721.9 552.0 723.3 552.8 724.8 553.5C726.2 554.2 727.7 554.9 729.1 555.6C730.5 556.3 732.0 557.0 733.4 557.7C734.9 558.4 736.3 559.1 737.7 559.8C739.2 560.5 740.6 561.2 742.1 561.8C743.5 562.5 745.0 563.2 746.4 563.8C747.9 564.5 749.3 565.2 750.7 565.8C752.2 566.5 753.7 567.1 755.1 567.8C756.6 568.4 758.0 569.0 759.5 569.7C760.9 570.3 762.4 570.9 763.9 571.6C765.3 572.2 766.8 572.8 768.2 573.4C769.7 574.0 771.2 574.6 772.6 575.3C774.1 575.9 775.6 576.5 777.1 577.1C778.5 577.7 780.0 578.3 781.5 578.9C783.0 579.5 784.5 580.0 786.0 580.6C787.5 581.2 788.9 581.8 790.4 582.4C791.9 583.0 793.4 583.5 794.9 584.1C796.4 584.7 797.9 585.3 799.5 585.8C801.0 586.4 802.5 587.0 804.0 587.5C805.5 588.1 807.0 588.6 808.5 589.2C810.0 589.7 811.6 590.3 813.1 590.8C814.6 591.4 816.1 591.9 817.7 592.4C819.2 592.9 820.7 593.5 822.3 594.0C823.8 594.5 825.3 595.0 826.9 595.5C828.4 596.0 829.9 596.5 831.5 597.0C833.0 597.5 834.6 598.0 836.1 598.5C837.6 599.0 839.2 599.4 840.7 599.9C842.3 600.4 843.8 600.8 845.4 601.3C846.9 601.8 848.5 602.2 850.1 602.6C851.6 603.1 853.2 603.5 854.7 603.9C856.3 604.4 857.8 604.8 859.4 605.2C861.0 605.6 862.5 606.0 864.1 606.4C865.7 606.8 867.2 607.1 868.8 607.5C870.4 607.9 871.9 608.3 873.5 608.6C875.1 609.0 876.6 609.3 878.2 609.7C879.8 610.0 881.4 610.3 882.9 610.6C884.5 611.0 886.1 611.3 887.7 611.6C889.2 611.9 890.8 612.2 892.4 612.4C894.0 612.7 895.5 613.0 897.1 613.2C898.7 613.5 900.3 613.8 901.9 614.0C903.4 614.3 905.0 614.5 906.6 614.7C908.2 615.0 909.8 615.2 911.4 615.4C913.0 615.6 914.5 615.8 916.1 616.0C917.7 616.2 919.3 616.4 920.9 616.6C922.5 616.8 924.1 617.0 925.7 617.1C927.3 617.3 928.9 617.5 930.5 617.6C932.0 617.8 933.6 618.0 935.2 618.1C936.8 618.3 938.4 618.4 940.0 618.5C941.6 618.7 943.2 618.8 944.8 619.0C946.4 619.1 948.1 619.2 949.7 619.3C951.3 619.5 952.9 619.6 954.5 619.7C956.1 619.8 957.7 619.9 959.3 620.0C960.9 620.2 962.5 620.3 964.2 620.4C965.8 620.5 967.4 620.6 969.0 620.7C970.6 620.8 972.3 620.9 973.9 621.0C975.5 621.1 977.1 621.2 978.8 621.3C980.4 621.4 982.0 621.4 983.6 621.5C985.3 621.6 986.9 621.7 988.5 621.8C990.2 621.9 991.8 622.0 993.4 622.1C995.1 622.2 996.7 622.2 998.3 622.3C1000.0 622.4 1001.6 622.5 1003.2 622.5C1004.8 622.6 1006.5 622.7 1008.1 622.7C1009.7 622.8 1011.3 622.9 1012.9 622.9C1014.5 623.0 1016.1 623.0 1017.7 623.0C1019.3 623.1 1020.9 623.1 1022.5 623.1C1024.1 623.1 1025.6 623.1 1027.2 623.1C1028.7 623.1 1030.7 623.1 1031.8 623.1C1033.0 623.1 1033.6 623.1 1034.3 623.0C1034.9 623.0 1035.5 623.0 1035.8 623.0C1036.2 623.0 1036.2 623.0 1036.4 623.0C1036.7 623.0 1037.0 623.0 1037.4 622.9C1037.8 622.9 1038.4 622.9 1039.0 622.9C1039.5 622.8 1040.2 622.8 1040.5 622.8C1040.9 622.7 1040.8 622.8 1041.0 622.7C1041.3 622.7 1041.7 622.7 1042.1 622.6C1042.6 622.6 1043.2 622.5 1043.8 622.5C1044.3 622.4 1045.1 622.3 1045.4 622.3C1045.8 622.2 1045.5 622.2 1045.8 622.2C1046.1 622.2 1046.6 622.1 1047.1 622.0C1047.6 621.9 1048.2 621.8 1048.8 621.7C1049.4 621.6 1050.3 621.4 1050.6 621.3C1051.0 621.2 1050.6 621.3 1050.9 621.2C1051.2 621.1 1051.9 621.0 1052.5 620.8C1053.0 620.7 1053.7 620.5 1054.3 620.4C1054.9 620.3 1055.8 620.1 1056.1 620.1C1056.4 620.0 1056.0 620.1 1056.3 620.1C1056.5 620.1 1057.2 620.0 1057.7 620.1C1058.1 620.2 1058.6 620.3 1059.0 620.5C1059.4 620.7 1059.8 621.3 1060.0 621.5C1060.2 621.6 1059.9 621.3 1060.0 621.5C1060.1 621.7 1060.5 622.4 1060.6 622.9C1060.7 623.4 1060.8 623.9 1060.8 624.5C1060.7 625.0 1060.6 625.7 1060.5 625.9C1060.5 626.2 1060.6 625.7 1060.5 626.0C1060.4 626.2 1060.1 627.0 1059.8 627.4C1059.6 627.9 1059.2 628.3 1058.8 628.7C1058.5 629.1 1058.0 629.6 1057.8 629.8C1057.5 630.0 1057.9 629.7 1057.6 629.9C1057.3 630.1 1056.7 630.7 1056.2 631.1C1055.7 631.4 1055.1 631.8 1054.6 632.1C1054.1 632.4 1053.6 632.7 1053.3 632.9C1053.0 633.0 1053.3 632.9 1053.0 633.0C1052.7 633.2 1051.9 633.6 1051.4 633.9C1050.9 634.2 1050.3 634.5 1049.8 634.7C1049.4 634.9 1048.9 635.1 1048.6 635.3C1048.4 635.4 1048.6 635.3 1048.2 635.4C1047.9 635.6 1047.2 635.9 1046.7 636.1C1046.1 636.3 1045.5 636.6 1045.1 636.7C1044.6 636.9 1044.3 637.0 1044.0 637.1C1043.8 637.2 1043.9 637.2 1043.5 637.3C1043.2 637.4 1042.5 637.7 1042.0 637.8C1041.4 638.0 1040.8 638.2 1040.4 638.3C1040.0 638.4 1039.7 638.5 1039.5 638.6C1039.2 638.7 1039.2 638.7 1038.9 638.8C1038.5 638.9 1037.8 639.0 1037.3 639.2C1036.8 639.3 1036.2 639.5 1035.8 639.6C1035.4 639.7 1035.2 639.7 1034.9 639.8C1034.7 639.8 1034.6 639.9 1034.2 640.0C1033.8 640.0 1033.2 640.2 1032.7 640.3C1032.1 640.4 1031.5 640.6 1031.1 640.7C1030.7 640.7 1031.3 640.6 1030.4 640.8C1029.5 641.0 1027.3 641.5 1025.8 641.8C1024.3 642.1 1022.8 642.5 1021.2 642.8C1019.7 643.1 1018.1 643.4 1016.6 643.7C1015.1 644.0 1013.5 644.3 1012.0 644.6C1010.4 644.9 1008.8 645.1 1007.3 645.4C1005.7 645.7 1004.2 646.0 1002.6 646.2C1001.0 646.5 999.5 646.8 997.9 647.0C996.3 647.3 994.7 647.5 993.2 647.8C991.6 648.0 990.0 648.2 988.4 648.5C986.8 648.7 985.3 648.9 983.7 649.2C982.1 649.4 980.5 649.6 978.9 649.8C977.3 650.0 975.7 650.3 974.1 650.5C972.5 650.7 970.9 650.9 969.3 651.1C967.7 651.3 966.1 651.5 964.5 651.7C962.9 651.9 961.3 652.1 959.6 652.3C958.0 652.4 956.4 652.6 954.8 652.8C953.2 653.0 951.6 653.2 950.0 653.3C948.3 653.5 946.7 653.7 945.1 653.9C943.5 654.0 941.9 654.2 940.2 654.4C938.6 654.5 937.0 654.7 935.4 654.9C933.7 655.0 932.1 655.2 930.5 655.3C928.9 655.5 927.2 655.6 925.6 655.8C924.0 656.0 922.4 656.1 920.7 656.3C919.1 656.4 917.5 656.6 915.9 656.7C914.2 656.9 912.6 657.0 911.0 657.1C909.4 657.3 907.7 657.4 906.1 657.6C904.5 657.7 902.8 657.9 901.2 658.0C899.6 658.2 898.0 658.3 896.3 658.4C894.7 658.6 893.1 658.7 891.5 658.9C889.8 659.0 888.2 659.1 886.6 659.3C885.0 659.4 883.4 659.6 881.7 659.7C880.1 659.9 878.5 660.0 876.9 660.1C875.3 660.3 873.7 660.4 872.0 660.6C870.4 660.7 868.8 660.9 867.2 661.0C865.6 661.2 864.0 661.3 862.4 661.5C860.8 661.6 859.2 661.8 857.6 661.9C856.0 662.1 854.4 662.2 852.8 662.4C851.2 662.5 849.6 662.7 848.0 662.9C846.4 663.0 844.8 663.2 843.2 663.3C841.6 663.5 840.0 663.7 838.4 663.8C836.8 664.0 835.2 664.2 833.7 664.4C832.1 664.5 830.5 664.7 828.9 664.9C827.3 665.1 825.7 665.2 824.1 665.4C822.6 665.6 821.0 665.8 819.4 666.0C817.8 666.1 816.2 666.3 814.7 666.5C813.1 666.7 811.5 666.9 809.9 667.1C808.3 667.3 806.8 667.5 805.2 667.7C803.6 667.9 802.0 668.1 800.4 668.3C798.9 668.5 797.3 668.7 795.7 668.9C794.1 669.1 792.5 669.3 791.0 669.6C789.4 669.8 787.8 670.0 786.2 670.2C784.6 670.5 783.1 670.7 781.5 670.9C779.9 671.1 778.3 671.4 776.7 671.6C775.1 671.8 773.6 672.1 772.0 672.3C770.4 672.6 768.8 672.8 767.2 673.1C765.6 673.3 764.1 673.6 762.5 673.8C760.9 674.1 759.3 674.4 757.7 674.6C756.1 674.9 754.5 675.2 752.9 675.4C751.3 675.7 749.7 676.0 748.2 676.3C746.6 676.6 745.0 676.9 743.4 677.2C741.8 677.5 740.2 677.9 738.6 678.2C737.1 678.5 735.5 678.9 733.9 679.3C732.4 679.6 730.8 680.0 729.2 680.4C727.7 680.8 726.1 681.3 724.6 681.7C723.0 682.1 721.5 682.6 719.9 683.1C718.4 683.6 716.9 684.1 715.4 684.6C713.8 685.2 712.3 685.7 710.8 686.3C709.3 686.9 707.9 687.5 706.4 688.1C704.9 688.8 703.4 689.5 702.0 690.2C700.5 690.9 699.1 691.6 697.7 692.4C696.2 693.1 694.8 693.9 693.4 694.7C692.0 695.5 690.6 696.4 689.3 697.3C687.9 698.1 686.5 699.0 685.2 700.0C683.8 700.9 682.5 701.8 681.2 702.8C679.9 703.8 678.6 704.8 677.3 705.8C676.0 706.8 674.8 707.8 673.5 708.9C672.3 709.9 671.0 711.0 669.8 712.1C668.6 713.2 667.4 714.3 666.3 715.4C665.1 716.5 663.9 717.7 662.8 718.8C661.7 720.0 660.6 721.2 659.5 722.3C658.4 723.5 657.3 724.7 656.3 725.9C655.2 727.1 654.2 728.4 653.2 729.6C652.2 730.8 651.2 732.1 650.2 733.3C649.3 734.6 648.3 735.8 647.4 737.1C646.4 738.4 645.5 739.6 644.6 740.9C643.7 742.2 642.8 743.5 641.9 744.8C641.0 746.1 640.2 747.4 639.3 748.8C638.4 750.1 637.6 751.4 636.7 752.7C635.9 754.1 635.0 755.4 634.2 756.7C633.3 758.1 632.5 759.4 631.7 760.8C630.8 762.1 630.0 763.5 629.2 764.8C628.3 766.2 627.5 767.6 626.7 768.9C625.8 770.3 625.0 771.7 624.2 773.0C623.3 774.4 622.5 775.8 621.6 777.1C620.8 778.5 619.9 779.9 619.1 781.3C618.2 782.6 617.3 784.0 616.4 785.4C615.6 786.7 614.7 788.1 613.8 789.5C612.9 790.9 612.0 792.2 611.0 793.6C610.1 795.0 609.2 796.3 608.2 797.7C607.2 799.0 606.3 800.4 605.3 801.7C604.3 803.1 603.3 804.4 602.2 805.8C601.2 807.1 600.1 808.5 599.1 809.8C598.0 811.1 596.9 812.5 595.8 813.7C594.6 815.0 593.5 816.3 592.3 817.5C591.2 818.7 590.0 819.9 588.8 821.0C587.6 822.1 586.4 823.1 585.1 824.1C583.9 825.1 582.6 826.0 581.3 826.8C580.1 827.6 578.8 828.3 577.4 828.9C576.1 829.5 574.8 830.0 573.4 830.4C572.0 830.8 570.7 831.0 569.3 831.1C567.9 831.3 566.4 831.2 565.0 831.1C563.6 831.0 562.1 830.7 560.7 830.4C559.2 830.0 557.7 829.6 556.3 829.0C554.8 828.5 553.3 827.9 551.8 827.2C550.3 826.5 548.9 825.7 547.4 824.9C545.9 824.1 544.4 823.2 543.0 822.3C541.5 821.4 540.0 820.5 538.6 819.5C537.2 818.5 535.7 817.6 534.3 816.6C532.9 815.6 531.5 814.6 530.1 813.6C528.7 812.6 527.4 811.6 526.0 810.6C524.7 809.6 523.3 808.6 522.0 807.6C520.6 806.6 519.3 805.6 518.0 804.6C516.7 803.6 515.4 802.6 514.1 801.6C512.8 800.6 511.5 799.6 510.2 798.6C508.9 797.6 507.7 796.6 506.4 795.6C505.1 794.6 503.8 793.7 502.6 792.7C501.3 791.7 500.0 790.8 498.7 789.8C497.5 788.9 496.2 787.9 494.9 787.0C493.6 786.1 492.4 785.1 491.1 784.2C489.8 783.3 488.5 782.4 487.2 781.5C485.9 780.7 484.6 779.8 483.3 778.9C482.0 778.1 480.7 777.2 479.4 776.4C478.0 775.6 476.7 774.8 475.3 774.0C474.0 773.2 472.6 772.5 471.2 771.7C469.9 771.0 468.5 770.3 467.1 769.6C465.7 768.9 464.3 768.2 462.8 767.5C461.4 766.9 460.0 766.2 458.5 765.6C457.1 765.0 455.6 764.3 454.1 763.8C452.6 763.2 451.2 762.6 449.7 762.0C448.2 761.5 446.7 760.9 445.2 760.4C443.6 759.9 442.1 759.4 440.6 758.9C439.1 758.4 437.5 757.9 436.0 757.4C434.4 756.9 432.9 756.5 431.3 756.0C429.8 755.6 428.2 755.2 426.6 754.8C425.1 754.3 423.5 753.9 421.9 753.5C420.3 753.1 418.7 752.8 417.1 752.4C415.6 752.0 414.0 751.7 412.4 751.3C410.8 751.0 409.2 750.6 407.6 750.3C406.0 750.0 404.3 749.6 402.7 749.3C401.1 749.0 399.5 748.7 397.9 748.4C396.3 748.1 394.7 747.8 393.1 747.5C391.5 747.3 389.8 747.0 388.2 746.7C386.6 746.4 385.0 746.2 383.4 745.9C381.8 745.7 380.2 745.4 378.6 745.2C377.0 744.9 375.4 744.7 373.8 744.4C372.1 744.2 370.5 744.0 368.9 743.7C367.3 743.5 365.7 743.3 364.1 743.1C362.5 742.8 360.9 742.6 359.3 742.4C357.7 742.2 356.1 742.0 354.5 741.8C352.9 741.6 351.3 741.4 349.7 741.2C348.1 741.0 346.5 740.8 344.9 740.6C343.3 740.4 341.7 740.3 340.1 740.1C338.6 739.9 337.0 739.7 335.4 739.6C333.8 739.4 332.2 739.2 330.6 739.1C329.0 738.9 327.4 738.7 325.8 738.6C324.2 738.4 322.6 738.3 321.0 738.1C319.4 738.0 317.8 737.8 316.2 737.7C314.7 737.5 313.1 737.4 311.5 737.3C309.9 737.1 308.3 737.0 306.7 736.9C305.1 736.7 303.5 736.6 301.9 736.5C300.3 736.3 298.7 736.2 297.1 736.1C295.6 736.0 294.0 735.9 292.4 735.7C290.8 735.6 289.2 735.5 287.6 735.4C286.0 735.3 284.4 735.2 282.8 735.1C281.2 735.0 279.6 734.8 278.0 734.7C276.4 734.6 274.8 734.5 273.2 734.4C271.7 734.3 270.1 734.2 268.5 734.1C266.9 734.0 265.3 733.9 263.7 733.8C262.1 733.7 260.5 733.6 258.9 733.5C257.3 733.4 255.7 733.3 254.1 733.3C252.5 733.2 250.9 733.1 249.3 733.0C247.7 732.9 246.1 732.8 244.5 732.7C242.9 732.6 241.3 732.5 239.7 732.4C238.1 732.3 236.5 732.3 234.8 732.2C233.2 732.1 231.6 732.0 230.0 731.9C228.4 731.8 226.8 731.7 225.2 731.6C223.6 731.5 222.0 731.4 220.4 731.4C218.7 731.3 217.1 731.2 215.5 731.1C213.9 731.0 212.3 730.9 210.7 730.8C209.0 730.7 207.4 730.6 205.8 730.5C204.2 730.4 202.5 730.4 200.9 730.3C199.3 730.2 197.7 730.1 196.0 730.0C194.4 729.9 192.0 729.7 191.2 729.7" stroke-opacity="0.42"/>
<path d="M191.1 689.7C192.0 689.7 194.7 689.6 196.4 689.5C198.2 689.4 200.0 689.3 201.8 689.2C203.5 689.1 205.3 689.0 207.1 688.9C208.8 688.8 210.6 688.7 212.3 688.6C214.1 688.5 215.9 688.4 217.6 688.3C219.4 688.2 221.1 688.1 222.9 688.0C224.6 687.9 226.4 687.8 228.1 687.7C229.9 687.5 231.6 687.4 233.3 687.3C235.1 687.2 236.8 687.0 238.5 686.9C240.3 686.8 242.0 686.6 243.7 686.5C245.5 686.4 247.2 686.2 248.9 686.1C250.7 686.0 252.4 685.8 254.1 685.7C255.8 685.5 257.5 685.4 259.3 685.2C261.0 685.1 262.7 685.0 264.4 684.8C266.1 684.7 267.9 684.5 269.6 684.3C271.3 684.2 273.0 684.0 274.7 683.9C276.4 683.7 278.1 683.6 279.8 683.4C281.6 683.2 283.3 683.1 285.0 682.9C286.7 682.8 288.4 682.6 290.1 682.4C291.8 682.3 293.5 682.1 295.2 681.9C296.9 681.8 298.6 681.6 300.4 681.4C302.1 681.3 303.8 681.1 305.5 680.9C307.2 680.7 308.9 680.6 310.6 680.4C312.3 680.2 314.0 680.1 315.7 679.9C317.4 679.7 319.1 679.5 320.9 679.4C322.6 679.2 324.3 679.0 326.0 678.9C327.7 678.7 329.4 678.5 331.1 678.3C332.8 678.2 334.5 678.0 336.3 677.8C338.0 677.6 339.7 677.5 341.4 677.3C343.1 677.1 344.8 677.0 346.5 676.8C348.3 676.6 350.0 676.4 351.7 676.3C353.4 676.1 355.1 675.9 356.9 675.8C358.6 675.6 360.3 675.4 362.1 675.3C363.8 675.1 365.5 674.9 367.2 674.8C369.0 674.6 370.7 674.4 372.4 674.3C374.2 674.1 375.9 673.9 377.7 673.8C379.4 673.6 381.1 673.5 382.9 673.3C384.6 673.1 386.4 673.0 388.1 672.8C389.9 672.7 391.6 672.5 393.4 672.4C395.1 672.2 396.9 672.1 398.7 671.9C400.4 671.8 402.2 671.6 403.9 671.5C405.7 671.3 407.5 671.2 409.3 671.1C411.0 670.9 412.8 670.8 414.6 670.6C416.4 670.5 418.1 670.4 419.9 670.2C421.7 670.1 423.5 669.9 425.3 669.8C427.1 669.6 428.8 669.5 430.6 669.3C432.4 669.2 434.2 669.0 436.0 668.8C437.7 668.7 439.5 668.5 441.3 668.3C443.0 668.1 444.8 667.9 446.6 667.7C448.3 667.4 450.1 667.2 451.8 667.0C453.6 666.7 455.3 666.4 457.1 666.2C458.8 665.9 460.5 665.6 462.2 665.3C464.0 664.9 465.7 664.6 467.4 664.2C469.1 663.9 470.8 663.5 472.4 663.1C474.1 662.7 475.8 662.2 477.4 661.8C479.1 661.3 480.7 660.8 482.4 660.3C484.0 659.8 485.6 659.2 487.2 658.7C488.8 658.1 490.4 657.5 491.9 656.8C493.5 656.2 495.1 655.5 496.6 654.8C498.1 654.1 499.7 653.3 501.2 652.6C502.7 651.8 504.1 651.0 505.6 650.1C507.1 649.3 508.5 648.4 510.0 647.5C511.4 646.6 512.8 645.6 514.2 644.6C515.6 643.7 517.0 642.7 518.3 641.6C519.7 640.6 521.1 639.5 522.4 638.5C523.7 637.4 525.0 636.3 526.4 635.1C527.7 634.0 528.9 632.8 530.2 631.7C531.5 630.5 532.7 629.3 534.0 628.0C535.2 626.8 536.5 625.6 537.7 624.3C538.9 623.1 540.1 621.8 541.3 620.5C542.4 619.2 543.6 617.9 544.8 616.5C545.9 615.2 547.0 613.9 548.2 612.5C549.3 611.1 550.4 609.8 551.5 608.4C552.6 607.0 553.7 605.6 554.8 604.2C555.8 602.8 556.9 601.4 557.9 600.0C559.0 598.5 560.0 597.1 561.0 595.7C562.0 594.2 563.0 592.8 564.0 591.3C565.0 589.9 566.0 588.4 567.0 587.0C567.9 585.5 568.9 584.0 569.8 582.6C570.8 581.1 571.7 579.6 572.6 578.2C573.5 576.7 574.4 575.2 575.3 573.8C576.2 572.3 577.1 570.8 578.0 569.3C578.8 567.8 579.7 566.3 580.6 564.8C581.4 563.4 582.3 561.9 583.1 560.3C583.9 558.8 584.8 557.3 585.6 555.8C586.4 554.3 587.2 552.8 588.0 551.2C588.8 549.7 589.6 548.2 590.4 546.6C591.2 545.1 592.0 543.5 592.7 541.9C593.5 540.4 594.3 538.8 595.0 537.2C595.8 535.6 596.6 534.1 597.3 532.5C598.1 530.9 598.8 529.3 599.5 527.7C600.3 526.1 601.0 524.5 601.7 522.9C602.4 521.3 603.1 519.7 603.8 518.1C604.5 516.5 605.2 514.9 605.9 513.3C606.6 511.7 607.3 510.1 607.9 508.5C608.6 507.0 609.2 505.4 609.9 503.8C610.5 502.3 611.2 500.7 611.8 499.2C612.4 497.6 613.1 496.1 613.7 494.5C614.3 492.9 615.0 491.4 615.6 489.8C616.3 488.2 617.0 486.7 617.6 485.1C618.3 483.5 619.0 481.8 619.7 480.2C620.4 478.6 621.2 476.9 621.9 475.3C622.7 473.6 623.5 471.9 624.3 470.3C625.1 468.6 626.0 467.0 626.9 465.4C627.8 463.8 628.8 462.2 629.8 460.7C630.8 459.2 631.8 457.8 632.9 456.4C634.0 455.0 635.1 453.7 636.4 452.5C637.6 451.3 638.9 450.1 640.2 449.1C641.6 448.1 643.0 447.2 644.5 446.4C646.0 445.7 647.5 445.0 649.2 444.5C650.8 444.0 652.5 443.6 654.2 443.3C655.9 443.1 657.6 443.0 659.4 442.9C661.1 442.9 662.9 443.0 664.6 443.2C666.3 443.5 668.0 443.8 669.7 444.3C671.3 444.7 672.9 445.3 674.5 446.0C676.1 446.6 677.6 447.4 679.0 448.3C680.5 449.1 681.9 450.1 683.2 451.1C684.6 452.1 686.0 453.2 687.3 454.3C688.6 455.5 689.9 456.6 691.2 457.9C692.4 459.1 693.7 460.3 694.9 461.6C696.2 462.8 697.4 464.1 698.7 465.4C699.9 466.7 701.2 467.9 702.4 469.2C703.7 470.4 705.0 471.7 706.3 472.9C707.5 474.1 708.8 475.3 710.1 476.5C711.4 477.7 712.7 478.8 714.1 480.0C715.4 481.1 716.7 482.3 718.1 483.4C719.4 484.5 720.8 485.6 722.1 486.7C723.5 487.8 724.9 488.9 726.2 489.9C727.6 491.0 729.0 492.0 730.4 493.1C731.8 494.1 733.2 495.1 734.6 496.1C736.0 497.1 737.4 498.1 738.9 499.1C740.3 500.1 741.7 501.0 743.2 502.0C744.6 502.9 746.1 503.9 747.5 504.8C749.0 505.7 750.5 506.7 751.9 507.6C753.4 508.5 754.9 509.4 756.4 510.3C757.8 511.2 759.3 512.0 760.8 512.9C762.3 513.8 763.8 514.6 765.3 515.5C766.9 516.3 768.4 517.2 769.9 518.0C771.4 518.8 772.9 519.6 774.5 520.4C776.0 521.3 777.5 522.1 779.1 522.9C780.6 523.7 782.1 524.4 783.7 525.2C785.2 526.0 786.8 526.8 788.4 527.6C789.9 528.3 791.5 529.1 793.0 529.8C794.6 530.6 796.2 531.3 797.7 532.1C799.3 532.8 800.9 533.6 802.5 534.3C804.0 535.0 805.6 535.8 807.2 536.5C808.8 537.2 810.4 537.9 812.0 538.6C813.5 539.3 815.1 540.1 816.7 540.8C818.3 541.5 819.9 542.2 821.5 542.9C823.1 543.6 824.7 544.3 826.3 545.0C827.9 545.7 829.5 546.4 831.1 547.0C832.7 547.7 834.3 548.4 835.9 549.1C837.5 549.8 839.1 550.5 840.7 551.1C842.3 551.8 844.0 552.5 845.6 553.1C847.2 553.8 848.8 554.5 850.4 555.1C852.0 555.8 853.6 556.4 855.3 557.1C856.9 557.7 858.5 558.3 860.1 559.0C861.7 559.6 863.4 560.2 865.0 560.8C866.6 561.5 868.3 562.1 869.9 562.7C871.5 563.3 873.2 563.9 874.8 564.5C876.4 565.1 878.1 565.7 879.7 566.2C881.3 566.8 883.0 567.4 884.6 568.0C886.3 568.5 887.9 569.1 889.6 569.6C891.2 570.2 892.9 570.7 894.5 571.2C896.2 571.8 897.8 572.3 899.5 572.8C901.1 573.3 902.8 573.8 904.5 574.3C906.1 574.8 907.8 575.3 909.5 575.8C911.1 576.3 912.8 576.7 914.5 577.2C916.2 577.6 917.8 578.1 919.5 578.5C921.2 579.0 922.9 579.4 924.6 579.8C926.2 580.2 927.9 580.6 929.6 581.0C931.3 581.4 933.0 581.8 934.7 582.2C936.4 582.5 938.1 582.9 939.8 583.2C941.5 583.6 943.2 583.9 944.9 584.2C946.6 584.6 948.3 584.9 950.0 585.2C951.7 585.5 953.4 585.7 955.2 586.0C956.9 586.3 958.6 586.6 960.3 586.8C962.0 587.1 963.8 587.3 965.5 587.5C967.2 587.8 968.9 588.0 970.7 588.2C972.4 588.4 974.1 588.6 975.9 588.8C977.6 589.0 979.3 589.2 981.1 589.4C982.8 589.6 984.5 589.8 986.3 589.9C988.0 590.1 989.7 590.3 991.5 590.4C993.2 590.6 995.0 590.7 996.7 590.9C998.4 591.0 1000.2 591.2 1001.9 591.3C1003.7 591.5 1005.4 591.6 1007.1 591.7C1008.9 591.9 1010.6 592.0 1012.4 592.1C1014.1 592.3 1015.8 592.4 1017.6 592.5C1019.3 592.6 1021.1 592.8 1022.8 592.9C1024.5 593.0 1026.3 593.1 1028.0 593.3C1029.7 593.4 1031.5 593.5 1033.2 593.7C1034.9 593.8 1037.2 594.0 1038.3 594.1C1039.4 594.2 1039.5 594.2 1040.0 594.2C1040.5 594.3 1040.9 594.3 1041.3 594.4C1041.7 594.4 1042.3 594.4 1042.6 594.5C1043.0 594.5 1043.1 594.5 1043.4 594.5C1043.6 594.5 1043.6 594.5 1043.9 594.6C1044.2 594.6 1044.8 594.6 1045.2 594.6C1045.7 594.6 1046.1 594.6 1046.6 594.6C1047.0 594.6 1047.6 594.5 1047.9 594.5C1048.3 594.5 1048.3 594.5 1048.5 594.5C1048.7 594.4 1048.9 594.4 1049.3 594.4C1049.7 594.3 1050.2 594.2 1050.7 594.1C1051.2 594.0 1051.7 593.9 1052.1 593.7C1052.6 593.6 1053.3 593.3 1053.6 593.2C1053.9 593.1 1053.8 593.1 1054.0 593.0C1054.3 592.9 1054.7 592.8 1055.1 592.6C1055.5 592.4 1056.1 592.2 1056.5 592.0C1057.0 591.9 1057.5 591.7 1057.9 591.6C1058.3 591.5 1058.9 591.5 1059.1 591.5C1059.3 591.5 1059.1 591.5 1059.2 591.5C1059.4 591.5 1059.8 591.6 1060.1 591.7C1060.4 591.9 1060.7 592.1 1060.9 592.4C1061.1 592.7 1061.3 593.1 1061.5 593.5C1061.6 593.9 1061.8 594.6 1061.8 594.8C1061.9 595.1 1061.8 594.6 1061.8 594.9C1061.9 595.1 1062.0 595.8 1062.0 596.3C1062.1 596.8 1062.1 597.3 1062.1 597.8C1062.1 598.3 1062.1 598.8 1062.0 599.2C1062.0 599.6 1061.9 600.1 1061.9 600.3C1061.9 600.6 1061.9 600.3 1061.8 600.6C1061.8 600.8 1061.7 601.4 1061.6 601.9C1061.4 602.3 1061.3 602.7 1061.1 603.1C1061.0 603.5 1060.8 604.0 1060.6 604.3C1060.5 604.7 1060.3 605.0 1060.2 605.1C1060.1 605.3 1060.2 605.3 1060.0 605.5C1059.9 605.8 1059.6 606.3 1059.4 606.6C1059.1 607.0 1058.9 607.3 1058.6 607.7C1058.3 608.1 1058.0 608.5 1057.8 608.7C1057.5 609.0 1057.4 609.1 1057.3 609.3C1057.1 609.4 1057.1 609.5 1056.9 609.7C1056.6 610.0 1056.2 610.4 1055.9 610.7C1055.6 611.0 1055.2 611.3 1054.9 611.6C1054.5 611.9 1054.1 612.3 1053.8 612.5C1053.6 612.7 1053.6 612.7 1053.4 612.8C1053.2 613.0 1053.0 613.1 1052.7 613.4C1052.4 613.6 1051.9 613.9 1051.5 614.2C1051.2 614.5 1050.8 614.7 1050.4 615.0C1050.0 615.3 1049.4 615.6 1049.2 615.8C1048.9 615.9 1049.1 615.8 1048.9 616.0C1048.7 616.1 1048.3 616.3 1048.0 616.5C1047.6 616.7 1047.4 616.9 1046.7 617.3C1046.1 617.6 1045.4 618.1 1044.1 618.7C1042.9 619.4 1041.0 620.4 1039.4 621.2C1037.8 622.0 1036.2 622.7 1034.5 623.4C1032.9 624.1 1031.3 624.8 1029.7 625.4C1028.0 626.0 1026.4 626.6 1024.7 627.2C1023.1 627.7 1021.5 628.2 1019.8 628.7C1018.1 629.2 1016.5 629.7 1014.8 630.1C1013.1 630.5 1011.5 630.9 1009.8 631.3C1008.1 631.7 1006.4 632.1 1004.7 632.4C1003.1 632.8 1001.4 633.1 999.7 633.4C998.0 633.7 996.3 634.0 994.6 634.3C992.9 634.5 991.2 634.8 989.5 635.1C987.8 635.3 986.0 635.6 984.3 635.8C982.6 636.1 980.9 636.3 979.2 636.5C977.5 636.8 975.8 637.0 974.0 637.2C972.3 637.5 970.6 637.7 968.9 638.0C967.2 638.2 965.4 638.4 963.7 638.7C962.0 638.9 960.3 639.2 958.5 639.4C956.8 639.7 955.1 639.9 953.4 640.2C951.6 640.4 949.9 640.7 948.2 640.9C946.5 641.2 944.7 641.5 943.0 641.7C941.3 642.0 939.6 642.2 937.8 642.5C936.1 642.7 934.4 643.0 932.6 643.3C930.9 643.5 929.2 643.8 927.5 644.0C925.7 644.3 924.0 644.5 922.3 644.8C920.5 645.0 918.8 645.3 917.1 645.5C915.4 645.8 913.6 646.0 911.9 646.2C910.2 646.5 908.5 646.7 906.7 647.0C905.0 647.2 903.3 647.4 901.5 647.7C899.8 647.9 898.1 648.1 896.4 648.3C894.6 648.6 892.9 648.8 891.2 649.0C889.5 649.2 887.7 649.5 886.0 649.7C884.3 649.9 882.6 650.1 880.9 650.4C879.1 650.6 877.4 650.8 875.7 651.0C874.0 651.2 872.2 651.5 870.5 651.7C868.8 651.9 867.1 652.1 865.4 652.4C863.6 652.6 861.9 652.8 860.2 653.0C858.5 653.3 856.8 653.5 855.1 653.7C853.3 654.0 851.6 654.2 849.9 654.4C848.2 654.7 846.5 654.9 844.8 655.1C843.0 655.4 841.3 655.6 839.6 655.9C837.9 656.1 836.2 656.4 834.5 656.6C832.8 656.9 831.0 657.1 829.3 657.4C827.6 657.7 825.9 657.9 824.2 658.2C822.5 658.5 820.8 658.8 819.1 659.0C817.3 659.3 815.6 659.6 813.9 659.9C812.2 660.2 810.5 660.5 808.8 660.8C807.1 661.1 805.4 661.4 803.7 661.7C802.0 662.0 800.3 662.3 798.6 662.7C796.9 663.0 795.2 663.3 793.5 663.7C791.8 664.0 790.0 664.4 788.3 664.7C786.6 665.1 784.9 665.4 783.2 665.8C781.5 666.2 779.8 666.6 778.1 667.0C776.4 667.3 774.7 667.7 773.0 668.2C771.3 668.6 769.6 669.0 767.9 669.4C766.3 669.8 764.6 670.3 762.9 670.7C761.2 671.1 759.5 671.6 757.8 672.1C756.1 672.5 754.4 673.0 752.7 673.5C751.0 674.0 749.3 674.5 747.7 675.0C746.0 675.5 744.3 676.1 742.6 676.6C741.0 677.2 739.3 677.7 737.7 678.3C736.0 678.9 734.4 679.5 732.8 680.2C731.2 680.8 729.6 681.4 728.0 682.1C726.4 682.8 724.8 683.5 723.2 684.3C721.7 685.0 720.1 685.8 718.6 686.5C717.1 687.3 715.6 688.2 714.1 689.0C712.6 689.9 711.2 690.8 709.7 691.7C708.3 692.6 706.9 693.6 705.5 694.5C704.1 695.5 702.8 696.6 701.4 697.6C700.1 698.7 698.8 699.8 697.5 701.0C696.3 702.1 695.0 703.3 693.8 704.5C692.6 705.7 691.4 706.9 690.2 708.2C689.0 709.4 687.8 710.7 686.7 712.0C685.6 713.3 684.4 714.7 683.3 716.0C682.2 717.4 681.1 718.8 680.1 720.1C679.0 721.5 677.9 722.9 676.9 724.3C675.8 725.7 674.8 727.2 673.8 728.6C672.7 730.0 671.7 731.4 670.7 732.9C669.7 734.3 668.7 735.7 667.7 737.2C666.7 738.6 665.7 740.1 664.8 741.5C663.8 743.0 662.8 744.5 661.9 745.9C660.9 747.4 660.0 748.9 659.0 750.3C658.1 751.8 657.1 753.3 656.2 754.8C655.3 756.2 654.4 757.7 653.5 759.2C652.5 760.7 651.6 762.2 650.7 763.7C649.8 765.2 649.0 766.7 648.1 768.2C647.2 769.7 646.3 771.2 645.5 772.7C644.6 774.2 643.7 775.7 642.9 777.3C642.0 778.8 641.2 780.3 640.4 781.8C639.5 783.3 638.7 784.9 637.9 786.4C637.0 787.9 636.2 789.5 635.4 791.0C634.6 792.5 633.8 794.1 633.0 795.6C632.2 797.1 631.4 798.7 630.6 800.2C629.9 801.8 629.1 803.3 628.3 804.9C627.5 806.4 626.8 808.0 626.0 809.5C625.3 811.1 624.5 812.6 623.8 814.2C623.0 815.7 622.3 817.3 621.5 818.8C620.8 820.4 620.1 822.0 619.3 823.5C618.6 825.1 617.9 826.7 617.1 828.2C616.4 829.8 615.7 831.3 615.0 832.9C614.2 834.5 613.5 836.0 612.8 837.6C612.0 839.2 611.3 840.7 610.5 842.3C609.8 843.8 609.0 845.4 608.3 847.0C607.5 848.5 606.8 850.1 606.0 851.6C605.2 853.2 604.4 854.7 603.6 856.3C602.8 857.8 602.0 859.4 601.2 860.9C600.4 862.5 599.5 864.0 598.7 865.5C597.8 867.1 596.9 868.6 596.0 870.2C595.1 871.7 594.2 873.2 593.3 874.7C592.4 876.3 591.4 877.8 590.5 879.3C589.5 880.8 588.5 882.3 587.5 883.8C586.5 885.3 585.4 886.8 584.4 888.3C583.3 889.8 582.2 891.2 581.1 892.6C579.9 893.9 578.7 895.2 577.5 896.3C576.3 897.4 575.0 898.5 573.7 899.3C572.4 900.2 571.0 900.9 569.5 901.3C568.1 901.7 566.5 902.0 565.0 902.0C563.4 902.0 561.7 901.7 560.1 901.4C558.4 901.0 556.7 900.4 555.1 899.7C553.4 899.0 551.7 898.2 550.1 897.3C548.5 896.4 546.9 895.4 545.4 894.4C543.8 893.4 542.4 892.3 540.9 891.2C539.5 890.1 538.1 888.9 536.8 887.7C535.5 886.6 534.2 885.3 532.9 884.1C531.7 882.9 530.5 881.6 529.3 880.3C528.1 879.0 526.9 877.7 525.8 876.4C524.6 875.0 523.5 873.7 522.4 872.3C521.2 871.0 520.2 869.6 519.1 868.3C518.0 866.9 516.9 865.5 515.8 864.2C514.7 862.8 513.6 861.4 512.5 860.1C511.4 858.7 510.3 857.4 509.1 856.1C508.0 854.8 506.9 853.5 505.7 852.2C504.5 850.9 503.4 849.6 502.2 848.3C501.0 847.1 499.8 845.8 498.6 844.6C497.3 843.4 496.1 842.2 494.9 841.0C493.6 839.8 492.4 838.6 491.1 837.4C489.8 836.2 488.5 835.1 487.2 834.0C485.9 832.8 484.6 831.7 483.3 830.6C482.0 829.5 480.6 828.4 479.3 827.3C477.9 826.2 476.6 825.2 475.2 824.1C473.8 823.1 472.4 822.0 471.0 821.0C469.6 820.0 468.2 819.0 466.8 818.0C465.4 817.0 464.0 816.0 462.5 815.1C461.1 814.1 459.6 813.2 458.2 812.2C456.7 811.3 455.3 810.4 453.8 809.5C452.3 808.6 450.8 807.7 449.3 806.8C447.8 805.9 446.3 805.1 444.8 804.2C443.3 803.4 441.8 802.6 440.2 801.7C438.7 800.9 437.2 800.1 435.6 799.3C434.1 798.5 432.5 797.8 431.0 797.0C429.4 796.2 427.8 795.5 426.3 794.8C424.7 794.0 423.1 793.3 421.5 792.6C419.9 791.9 418.3 791.2 416.7 790.5C415.1 789.8 413.5 789.2 411.9 788.5C410.3 787.9 408.7 787.2 407.0 786.6C405.4 786.0 403.8 785.4 402.1 784.8C400.5 784.2 398.9 783.6 397.2 783.0C395.6 782.4 393.9 781.9 392.3 781.3C390.6 780.8 389.0 780.3 387.3 779.7C385.7 779.2 384.0 778.7 382.3 778.2C380.7 777.7 379.0 777.3 377.3 776.8C375.6 776.3 374.0 775.9 372.3 775.4C370.6 775.0 368.9 774.6 367.2 774.1C365.6 773.7 363.9 773.3 362.2 772.9C360.5 772.5 358.8 772.1 357.1 771.7C355.4 771.4 353.7 771.0 352.0 770.6C350.3 770.3 348.6 769.9 346.9 769.6C345.2 769.3 343.5 768.9 341.8 768.6C340.1 768.3 338.3 768.0 336.6 767.7C334.9 767.4 333.2 767.1 331.5 766.8C329.8 766.6 328.0 766.3 326.3 766.0C324.6 765.7 322.9 765.5 321.2 765.2C319.4 765.0 317.7 764.7 316.0 764.5C314.3 764.3 312.5 764.0 310.8 763.8C309.1 763.6 307.3 763.4 305.6 763.2C303.9 763.0 302.1 762.8 300.4 762.6C298.7 762.4 296.9 762.2 295.2 762.0C293.5 761.8 291.7 761.6 290.0 761.4C288.3 761.2 286.5 761.1 284.8 760.9C283.0 760.7 281.3 760.6 279.6 760.4C277.8 760.2 276.1 760.1 274.3 759.9C272.6 759.8 270.9 759.6 269.1 759.5C267.4 759.3 265.7 759.2 263.9 759.0C262.2 758.9 260.4 758.7 258.7 758.6C257.0 758.4 255.2 758.3 253.5 758.2C251.7 758.0 250.0 757.9 248.3 757.8C246.5 757.6 244.8 757.5 243.0 757.4C241.3 757.2 239.6 757.1 237.8 757.0C236.1 756.8 234.4 756.7 232.6 756.6C230.9 756.4 229.2 756.3 227.4 756.2C225.7 756.0 224.0 755.9 222.3 755.7C220.5 755.6 218.8 755.5 217.1 755.3C215.3 755.2 213.6 755.1 211.9 754.9C210.2 754.8 208.4 754.6 206.7 754.5C205.0 754.3 203.3 754.2 201.6 754.0C199.9 753.9 198.1 753.7 196.4 753.5C194.7 753.4 192.2 753.1 191.3 753.0" stroke-opacity="0.56"/>
<path d="M191.3 684.8C192.3 684.6 195.2 684.1 197.2 683.8C199.1 683.4 201.1 683.1 203.1 682.8C205.1 682.4 207.0 682.1 209.0 681.7C211.0 681.4 213.0 681.0 215.0 680.7C217.0 680.4 219.0 680.0 221.0 679.7C223.0 679.3 225.0 679.0 227.0 678.6C229.0 678.3 231.0 677.9 233.0 677.6C235.0 677.2 237.0 676.9 239.0 676.5C241.0 676.2 243.0 675.8 245.0 675.5C247.0 675.1 249.0 674.8 251.1 674.4C253.1 674.1 255.1 673.8 257.1 673.4C259.1 673.1 261.1 672.7 263.2 672.4C265.2 672.0 267.2 671.7 269.2 671.3C271.2 671.0 273.3 670.7 275.3 670.3C277.3 670.0 279.3 669.6 281.3 669.3C283.3 669.0 285.4 668.6 287.4 668.3C289.4 668.0 291.4 667.6 293.4 667.3C295.5 667.0 297.5 666.7 299.5 666.3C301.5 666.0 303.5 665.7 305.5 665.4C307.5 665.0 309.5 664.7 311.5 664.4C313.6 664.1 315.6 663.8 317.6 663.5C319.6 663.2 321.6 662.9 323.6 662.6C325.6 662.2 327.6 661.9 329.6 661.7C331.6 661.4 333.5 661.1 335.5 660.8C337.5 660.5 339.5 660.2 341.5 659.9C343.5 659.6 345.4 659.3 347.4 659.1C349.4 658.8 351.4 658.5 353.4 658.2C355.3 658.0 357.3 657.7 359.3 657.4C361.2 657.1 363.2 656.9 365.2 656.6C367.2 656.3 369.1 656.0 371.1 655.8C373.1 655.5 375.1 655.2 377.0 654.9C379.0 654.7 381.0 654.4 383.0 654.1C385.0 653.8 386.9 653.5 388.9 653.2C390.9 652.9 392.9 652.7 394.9 652.4C396.9 652.1 398.9 651.8 400.9 651.5C402.9 651.2 404.9 650.9 406.9 650.5C408.9 650.2 410.9 649.9 412.9 649.6C414.9 649.3 417.0 648.9 419.0 648.6C421.0 648.3 423.1 647.9 425.1 647.6C427.1 647.2 429.2 646.9 431.3 646.5C433.3 646.1 435.4 645.8 437.4 645.4C439.5 645.0 441.6 644.6 443.7 644.2C445.7 643.8 447.8 643.3 449.9 642.9C451.9 642.4 454.0 642.0 456.0 641.5C458.1 641.0 460.1 640.4 462.1 639.9C464.1 639.3 466.1 638.7 468.1 638.1C470.1 637.4 472.0 636.8 473.9 636.0C475.8 635.3 477.7 634.6 479.6 633.7C481.4 632.9 483.2 632.1 485.0 631.2C486.8 630.3 488.6 629.4 490.3 628.4C492.1 627.5 493.8 626.5 495.5 625.4C497.2 624.4 498.8 623.3 500.4 622.2C502.1 621.1 503.7 619.9 505.3 618.7C506.8 617.5 508.4 616.3 509.9 615.1C511.4 613.8 512.9 612.5 514.4 611.2C515.9 609.9 517.3 608.6 518.8 607.2C520.2 605.8 521.6 604.4 523.0 603.0C524.4 601.6 525.7 600.1 527.1 598.6C528.4 597.2 529.7 595.7 531.0 594.1C532.3 592.6 533.5 591.0 534.8 589.5C536.0 587.9 537.3 586.3 538.5 584.7C539.7 583.0 540.9 581.4 542.0 579.7C543.2 578.1 544.3 576.4 545.4 574.7C546.6 573.0 547.7 571.3 548.8 569.5C549.8 567.8 550.9 566.1 552.0 564.3C553.0 562.5 554.0 560.8 555.1 559.0C556.1 557.2 557.1 555.4 558.0 553.6C559.0 551.7 560.0 549.9 560.9 548.1C561.9 546.3 562.8 544.4 563.7 542.6C564.6 540.7 565.5 538.8 566.4 537.0C567.3 535.1 568.2 533.2 569.0 531.4C569.9 529.5 570.7 527.6 571.6 525.7C572.4 523.8 573.2 521.9 574.0 520.0C574.8 518.2 575.6 516.3 576.4 514.4C577.2 512.5 577.9 510.6 578.7 508.7C579.5 506.8 580.2 504.9 580.9 503.0C581.7 501.1 582.4 499.2 583.1 497.3C583.8 495.4 584.5 493.5 585.2 491.6C585.9 489.7 586.6 487.8 587.3 485.9C587.9 484.0 588.6 482.1 589.2 480.2C589.9 478.3 590.5 476.4 591.2 474.4C591.8 472.5 592.5 470.6 593.1 468.7C593.7 466.8 594.3 464.9 594.9 463.0C595.6 461.1 596.2 459.1 596.8 457.2C597.4 455.3 597.9 453.4 598.5 451.5C599.1 449.5 599.7 447.6 600.3 445.7C600.9 443.8 601.4 441.9 602.0 439.9C602.6 438.0 603.1 436.1 603.7 434.1C604.3 432.2 604.8 430.3 605.4 428.3C605.9 426.4 606.5 424.5 607.0 422.5C607.6 420.6 608.1 418.7 608.7 416.7C609.2 414.8 609.8 412.9 610.3 410.9C610.8 409.0 611.4 407.0 611.9 405.1C612.5 403.1 613.0 401.2 613.6 399.2C614.1 397.3 614.6 395.3 615.2 393.4C615.7 391.4 616.3 389.5 616.8 387.5C617.4 385.6 617.9 383.6 618.5 381.7C619.0 379.7 619.6 377.7 620.1 375.8C620.7 373.8 621.2 371.8 621.8 369.9C622.3 367.9 622.9 365.9 623.5 364.0C624.0 362.0 624.6 360.0 625.2 358.1C625.8 356.1 626.3 354.1 626.9 352.1C627.5 350.2 628.1 348.2 628.7 346.2C629.3 344.2 629.9 342.2 630.5 340.3C631.1 338.3 631.7 336.3 632.3 334.3C633.0 332.3 633.6 330.3 634.3 328.4C635.0 326.4 635.6 324.5 636.4 322.5C637.1 320.6 637.8 318.7 638.6 316.8C639.4 315.0 640.2 313.1 641.1 311.3C642.0 309.5 642.9 307.7 643.8 305.9C644.8 304.2 645.8 302.5 646.9 300.8C648.0 299.2 649.1 297.6 650.3 296.0C651.5 294.5 652.8 293.0 654.1 291.6C655.5 290.2 656.9 288.8 658.4 287.5C659.9 286.2 661.5 284.9 663.2 283.9C664.9 282.9 666.7 281.9 668.5 281.5C670.4 281.1 672.4 281.2 674.3 281.6C676.3 282.0 678.4 282.9 680.4 283.9C682.3 284.8 684.2 285.9 686.0 287.1C687.8 288.2 689.5 289.5 691.2 290.7C692.8 292.0 694.3 293.4 695.8 294.8C697.3 296.1 698.7 297.6 700.1 299.1C701.5 300.5 702.8 302.1 704.1 303.6C705.4 305.2 706.7 306.7 707.9 308.3C709.1 309.9 710.3 311.5 711.6 313.2C712.8 314.8 713.9 316.4 715.1 318.1C716.3 319.7 717.5 321.3 718.8 322.9C720.0 324.6 721.2 326.2 722.4 327.8C723.7 329.4 724.9 331.0 726.2 332.6C727.4 334.2 728.7 335.7 730.0 337.3C731.3 338.9 732.6 340.4 733.9 342.0C735.2 343.5 736.5 345.1 737.8 346.6C739.1 348.1 740.5 349.7 741.8 351.2C743.2 352.7 744.6 354.2 745.9 355.6C747.3 357.1 748.7 358.6 750.1 360.1C751.5 361.5 752.9 362.9 754.4 364.4C755.8 365.8 757.3 367.2 758.7 368.6C760.2 370.0 761.7 371.4 763.2 372.7C764.6 374.1 766.1 375.5 767.7 376.8C769.2 378.1 770.7 379.4 772.3 380.7C773.8 382.0 775.4 383.3 776.9 384.6C778.5 385.9 780.1 387.1 781.7 388.3C783.3 389.6 784.9 390.8 786.5 392.0C788.2 393.2 789.8 394.4 791.4 395.6C793.1 396.7 794.8 397.9 796.4 399.1C798.1 400.2 799.8 401.3 801.5 402.5C803.2 403.6 804.9 404.7 806.6 405.8C808.3 406.9 810.0 408.0 811.7 409.0C813.4 410.1 815.2 411.2 816.9 412.2C818.7 413.3 820.4 414.3 822.2 415.3C823.9 416.4 825.7 417.4 827.5 418.4C829.2 419.4 831.0 420.4 832.8 421.4C834.6 422.4 836.4 423.3 838.2 424.3C840.0 425.3 841.8 426.2 843.6 427.2C845.4 428.1 847.2 429.0 849.0 430.0C850.8 430.9 852.7 431.8 854.5 432.7C856.3 433.7 858.1 434.6 860.0 435.5C861.8 436.4 863.6 437.3 865.5 438.2C867.3 439.0 869.1 439.9 871.0 440.8C872.8 441.7 874.6 442.5 876.5 443.4C878.3 444.3 880.2 445.1 882.0 446.0C883.8 446.8 885.7 447.7 887.5 448.5C889.3 449.4 891.2 450.2 893.0 451.0C894.9 451.9 896.7 452.7 898.5 453.5C900.4 454.4 902.2 455.2 904.1 456.0C905.9 456.8 907.8 457.6 909.6 458.5C911.4 459.3 913.3 460.1 915.1 460.9C917.0 461.7 918.8 462.5 920.7 463.3C922.5 464.1 924.4 464.9 926.2 465.7C928.1 466.5 929.9 467.3 931.8 468.1C933.6 468.9 935.5 469.6 937.4 470.4C939.2 471.2 941.1 472.0 943.0 472.8C944.8 473.6 946.7 474.3 948.6 475.1C950.4 475.9 952.3 476.7 954.2 477.5C956.1 478.2 958.0 479.0 959.9 479.8C961.7 480.6 963.6 481.3 965.5 482.1C967.4 482.9 969.3 483.6 971.2 484.4C973.1 485.1 975.0 485.9 976.9 486.6C978.9 487.4 980.8 488.1 982.7 488.9C984.6 489.6 986.5 490.3 988.4 491.0C990.4 491.7 992.3 492.4 994.2 493.1C996.1 493.8 998.1 494.5 1000.0 495.1C1001.9 495.8 1003.9 496.4 1005.8 497.1C1007.7 497.7 1009.7 498.3 1011.6 498.9C1013.6 499.5 1015.5 500.0 1017.4 500.6C1019.4 501.1 1021.3 501.7 1023.3 502.2C1025.2 502.7 1027.3 503.2 1029.1 503.6C1031.0 504.0 1033.3 504.5 1034.3 504.7C1035.3 505.0 1034.6 504.8 1035.0 504.9C1035.4 505.0 1035.9 505.1 1036.5 505.2C1037.2 505.3 1038.0 505.5 1038.8 505.6C1039.5 505.7 1040.5 505.8 1040.9 505.8C1041.3 505.8 1040.6 505.8 1041.0 505.8C1041.4 505.8 1042.5 505.9 1043.3 505.9C1044.0 505.9 1044.9 505.8 1045.6 505.8C1046.2 505.7 1046.7 505.6 1047.1 505.6C1047.5 505.5 1047.4 505.5 1047.9 505.4C1048.5 505.3 1049.5 505.0 1050.3 504.9C1051.1 504.7 1052.2 504.5 1052.7 504.5C1053.2 504.4 1053.0 504.4 1053.4 504.4C1053.8 504.4 1054.4 504.3 1055.0 504.4C1055.6 504.4 1056.5 504.6 1057.1 504.8C1057.8 505.0 1058.5 505.5 1058.8 505.7C1059.1 505.9 1058.7 505.5 1058.9 505.8C1059.2 506.0 1059.9 506.7 1060.3 507.3C1060.6 507.9 1060.9 508.7 1061.1 509.3C1061.3 509.8 1061.4 510.2 1061.5 510.6C1061.5 511.0 1061.5 511.0 1061.6 511.6C1061.6 512.1 1061.7 513.2 1061.8 514.0C1061.8 514.9 1061.8 516.0 1061.8 516.5C1061.8 517.1 1061.8 516.8 1061.8 517.2C1061.7 517.6 1061.7 518.3 1061.7 519.0C1061.6 519.7 1061.6 520.6 1061.5 521.4C1061.4 522.1 1061.3 523.1 1061.2 523.5C1061.2 523.9 1061.3 523.3 1061.2 523.7C1061.1 524.1 1060.9 525.2 1060.8 526.0C1060.7 526.8 1060.5 527.7 1060.3 528.2C1060.2 528.8 1060.1 529.2 1060.0 529.5C1059.9 529.9 1059.9 529.9 1059.8 530.4C1059.6 531.0 1059.3 531.9 1059.1 532.6C1058.9 533.3 1058.5 534.3 1058.4 534.7C1058.2 535.2 1058.3 534.9 1058.2 535.3C1058.0 535.6 1057.8 536.2 1057.5 536.8C1057.3 537.5 1056.9 538.3 1056.6 538.9C1056.3 539.6 1055.9 540.4 1055.7 540.7C1055.6 541.1 1055.8 540.6 1055.6 540.9C1055.5 541.3 1055.0 542.3 1054.6 542.9C1054.2 543.6 1053.8 544.4 1053.5 544.9C1053.2 545.4 1053.0 545.7 1052.8 546.0C1052.6 546.3 1052.6 546.3 1052.3 546.8C1052.0 547.3 1051.4 548.1 1051.0 548.7C1050.6 549.3 1050.0 550.2 1049.7 550.5C1049.4 550.9 1049.6 550.7 1049.4 551.0C1049.2 551.3 1048.7 551.8 1048.3 552.4C1047.9 552.9 1047.3 553.6 1046.9 554.1C1046.4 554.7 1045.8 555.4 1045.6 555.7C1045.3 556.0 1045.7 555.6 1045.4 555.9C1045.1 556.2 1044.4 557.1 1043.8 557.6C1043.3 558.2 1042.7 558.9 1042.3 559.3C1041.8 559.7 1041.7 559.9 1041.4 560.2C1041.1 560.5 1041.0 560.6 1040.6 561.0C1040.2 561.4 1039.6 562.0 1039.0 562.6C1038.3 563.2 1038.0 563.5 1036.9 564.5C1035.8 565.5 1033.8 567.3 1032.2 568.6C1030.6 569.9 1028.9 571.2 1027.3 572.4C1025.6 573.7 1023.9 574.9 1022.2 576.1C1020.5 577.3 1018.8 578.4 1017.1 579.5C1015.4 580.6 1013.7 581.7 1011.9 582.8C1010.2 583.8 1008.4 584.8 1006.6 585.8C1004.9 586.8 1003.1 587.8 1001.3 588.7C999.5 589.6 997.7 590.5 995.9 591.4C994.1 592.3 992.2 593.1 990.4 594.0C988.6 594.8 986.7 595.6 984.9 596.4C983.0 597.2 981.2 597.9 979.3 598.6C977.4 599.4 975.5 600.1 973.6 600.8C971.8 601.5 969.9 602.1 968.0 602.8C966.1 603.4 964.1 604.1 962.2 604.7C960.3 605.3 958.4 605.9 956.5 606.5C954.5 607.1 952.6 607.7 950.6 608.2C948.7 608.8 946.8 609.3 944.8 609.8C942.9 610.4 940.9 610.9 938.9 611.4C937.0 611.9 935.0 612.4 933.0 612.9C931.1 613.3 929.1 613.8 927.1 614.3C925.1 614.7 923.2 615.2 921.2 615.6C919.2 616.1 917.2 616.5 915.2 617.0C913.2 617.4 911.2 617.8 909.2 618.3C907.3 618.7 905.3 619.1 903.3 619.5C901.3 619.9 899.3 620.4 897.3 620.8C895.3 621.2 893.3 621.6 891.3 622.0C889.3 622.4 887.3 622.8 885.3 623.2C883.3 623.6 881.3 624.0 879.3 624.5C877.3 624.9 875.3 625.3 873.3 625.7C871.3 626.1 869.3 626.5 867.3 627.0C865.3 627.4 863.3 627.8 861.3 628.3C859.3 628.7 857.4 629.1 855.4 629.6C853.4 630.0 851.4 630.5 849.4 631.0C847.5 631.4 845.5 631.9 843.5 632.4C841.5 632.9 839.6 633.4 837.6 633.9C835.6 634.4 833.7 634.9 831.7 635.4C829.8 635.9 827.8 636.5 825.9 637.0C823.9 637.6 822.0 638.2 820.1 638.8C818.1 639.4 816.2 640.0 814.3 640.6C812.4 641.2 810.5 641.8 808.6 642.5C806.7 643.1 804.8 643.8 802.9 644.5C801.0 645.2 799.1 645.9 797.2 646.6C795.3 647.4 793.5 648.1 791.6 648.9C789.8 649.7 787.9 650.5 786.1 651.3C784.2 652.1 782.4 652.9 780.6 653.8C778.7 654.7 776.9 655.5 775.1 656.4C773.3 657.3 771.5 658.3 769.7 659.2C767.9 660.1 766.1 661.1 764.3 662.1C762.6 663.0 760.8 664.0 759.0 665.0C757.2 666.0 755.5 667.0 753.7 668.0C751.9 669.0 750.2 670.0 748.4 671.0C746.7 672.0 744.9 673.0 743.2 674.0C741.4 675.1 739.6 676.1 737.9 677.1C736.2 678.1 734.4 679.2 732.7 680.2C731.0 681.3 729.3 682.3 727.6 683.5C725.9 684.6 724.3 685.7 722.7 686.9C721.1 688.2 719.6 689.4 718.0 690.7C716.5 692.0 715.0 693.3 713.6 694.7C712.1 696.1 710.7 697.5 709.3 699.0C707.9 700.4 706.6 701.9 705.3 703.4C703.9 705.0 702.6 706.5 701.4 708.1C700.1 709.7 698.9 711.3 697.6 712.9C696.4 714.5 695.2 716.2 694.1 717.9C692.9 719.5 691.8 721.2 690.6 722.9C689.5 724.6 688.4 726.4 687.3 728.1C686.2 729.9 685.2 731.6 684.1 733.4C683.1 735.1 682.1 736.9 681.0 738.7C680.0 740.5 679.0 742.2 678.0 744.0C677.1 745.8 676.1 747.6 675.1 749.4C674.2 751.2 673.2 753.0 672.3 754.8C671.4 756.7 670.5 758.5 669.6 760.3C668.7 762.1 667.8 763.9 666.9 765.8C666.0 767.6 665.2 769.4 664.3 771.3C663.5 773.1 662.6 775.0 661.8 776.8C661.0 778.7 660.2 780.5 659.4 782.4C658.6 784.3 657.8 786.1 657.0 788.0C656.2 789.9 655.4 791.7 654.7 793.6C653.9 795.5 653.2 797.4 652.4 799.2C651.7 801.1 650.9 803.0 650.2 804.9C649.5 806.8 648.8 808.7 648.1 810.6C647.4 812.5 646.7 814.4 646.0 816.3C645.3 818.2 644.6 820.1 643.9 822.0C643.3 823.9 642.6 825.8 641.9 827.8C641.3 829.7 640.6 831.6 640.0 833.5C639.3 835.4 638.7 837.3 638.1 839.3C637.4 841.2 636.8 843.1 636.2 845.0C635.6 847.0 634.9 848.9 634.3 850.8C633.7 852.8 633.1 854.7 632.5 856.6C631.9 858.6 631.3 860.5 630.7 862.4C630.1 864.4 629.5 866.3 628.9 868.3C628.3 870.2 627.7 872.1 627.2 874.1C626.6 876.0 626.0 878.0 625.4 879.9C624.8 881.9 624.3 883.8 623.7 885.7C623.1 887.7 622.5 889.6 622.0 891.6C621.4 893.5 620.8 895.5 620.3 897.4C619.7 899.3 619.1 901.3 618.5 903.2C618.0 905.2 617.4 907.1 616.8 909.1C616.3 911.0 615.7 913.0 615.1 914.9C614.6 916.9 614.0 918.8 613.4 920.7C612.8 922.7 612.3 924.6 611.7 926.6C611.1 928.5 610.5 930.5 609.9 932.4C609.4 934.3 608.8 936.3 608.2 938.2C607.6 940.2 607.0 942.1 606.4 944.1C605.8 946.0 605.2 947.9 604.6 949.9C604.0 951.8 603.4 953.8 602.8 955.7C602.1 957.6 601.5 959.6 600.9 961.5C600.3 963.4 599.6 965.4 599.0 967.3C598.4 969.2 597.7 971.2 597.1 973.1C596.4 975.0 595.8 977.0 595.1 978.9C594.4 980.8 593.8 982.8 593.1 984.7C592.4 986.6 591.7 988.5 591.0 990.4C590.3 992.3 589.6 994.2 588.8 996.1C588.0 998.0 587.3 999.9 586.4 1001.7C585.6 1003.6 584.8 1005.4 583.9 1007.3C583.0 1009.1 582.0 1010.9 581.1 1012.6C580.1 1014.4 579.1 1016.2 578.0 1017.9C576.9 1019.6 575.8 1021.3 574.6 1022.9C573.4 1024.6 572.2 1026.2 570.9 1027.8C569.5 1029.3 568.2 1030.9 566.7 1032.4C565.3 1033.8 563.7 1035.4 562.1 1036.6C560.5 1037.8 558.8 1038.9 557.1 1039.5C555.3 1040.1 553.4 1040.3 551.6 1040.0C549.7 1039.8 547.7 1039.0 546.0 1038.1C544.2 1037.3 542.6 1036.1 541.0 1034.8C539.5 1033.6 538.0 1032.1 536.6 1030.6C535.2 1029.1 533.9 1027.5 532.6 1025.9C531.3 1024.2 530.0 1022.5 528.8 1020.9C527.6 1019.2 526.4 1017.5 525.2 1015.8C524.0 1014.1 522.8 1012.4 521.7 1010.7C520.5 1009.0 519.4 1007.3 518.3 1005.6C517.1 1003.9 516.0 1002.1 515.0 1000.4C513.9 998.7 512.8 996.9 511.7 995.2C510.7 993.5 509.6 991.7 508.5 990.0C507.5 988.2 506.4 986.5 505.4 984.8C504.3 983.0 503.3 981.3 502.3 979.6C501.2 977.8 500.2 976.1 499.1 974.4C498.1 972.6 497.0 970.9 496.0 969.2C494.9 967.5 493.8 965.8 492.8 964.0C491.7 962.3 490.6 960.6 489.5 958.9C488.4 957.3 487.3 955.6 486.2 953.9C485.0 952.2 483.9 950.6 482.7 948.9C481.5 947.3 480.4 945.6 479.2 944.0C478.0 942.4 476.7 940.7 475.5 939.1C474.3 937.5 473.0 935.9 471.7 934.4C470.5 932.8 469.2 931.2 467.9 929.7C466.6 928.1 465.3 926.6 463.9 925.0C462.6 923.5 461.2 922.0 459.9 920.5C458.5 919.0 457.1 917.5 455.7 916.0C454.3 914.5 452.9 913.1 451.5 911.6C450.1 910.2 448.6 908.7 447.2 907.3C445.7 905.9 444.3 904.5 442.8 903.1C441.3 901.7 439.8 900.4 438.3 899.0C436.8 897.7 435.2 896.3 433.7 895.0C432.2 893.7 430.6 892.4 429.0 891.1C427.5 889.8 425.9 888.5 424.3 887.3C422.7 886.0 421.1 884.8 419.5 883.6C417.9 882.4 416.2 881.2 414.6 880.0C412.9 878.8 411.3 877.6 409.6 876.5C407.9 875.3 406.3 874.2 404.6 873.1C402.9 872.0 401.2 870.9 399.5 869.8C397.8 868.8 396.0 867.7 394.3 866.7C392.6 865.7 390.8 864.6 389.1 863.6C387.3 862.6 385.5 861.7 383.8 860.7C382.0 859.7 380.2 858.8 378.4 857.9C376.6 856.9 374.8 856.0 373.0 855.1C371.2 854.2 369.4 853.3 367.5 852.5C365.7 851.6 363.9 850.7 362.0 849.9C360.2 849.1 358.3 848.3 356.5 847.5C354.6 846.6 352.7 845.9 350.8 845.1C349.0 844.3 347.1 843.5 345.2 842.8C343.3 842.1 341.4 841.3 339.5 840.6C337.6 839.9 335.7 839.2 333.8 838.5C331.9 837.8 329.9 837.1 328.0 836.5C326.1 835.8 324.1 835.1 322.2 834.5C320.3 833.9 318.3 833.2 316.4 832.6C314.4 832.0 312.5 831.4 310.5 830.8C308.6 830.2 306.6 829.7 304.6 829.1C302.7 828.5 300.7 828.0 298.7 827.4C296.8 826.9 294.8 826.4 292.8 825.8C290.8 825.3 288.8 824.8 286.9 824.3C284.9 823.8 282.9 823.3 280.9 822.8C278.9 822.3 276.9 821.9 274.9 821.4C272.9 821.0 270.9 820.5 268.9 820.1C267.0 819.6 265.0 819.2 263.0 818.8C261.0 818.3 259.0 817.9 257.0 817.5C255.0 817.1 253.0 816.7 251.0 816.3C249.0 815.9 247.0 815.5 245.0 815.2C243.0 814.8 241.0 814.4 239.0 814.1C237.0 813.7 235.0 813.4 233.0 813.0C231.0 812.7 229.0 812.3 227.0 812.0C225.0 811.7 223.0 811.3 221.0 811.0C219.1 810.7 217.1 810.4 215.1 810.1C213.1 809.8 211.1 809.5 209.2 809.2C207.2 808.9 205.2 808.6 203.2 808.3C201.3 808.0 199.3 807.7 197.3 807.4C195.4 807.2 192.4 806.8 191.5 806.6" stroke-opacity="0.71"/>
<path d="M191.2 674.8C192.3 674.5 195.6 673.4 197.8 672.8C200.0 672.1 202.2 671.4 204.4 670.8C206.7 670.1 208.9 669.4 211.2 668.8C213.5 668.1 215.7 667.5 218.0 666.8C220.3 666.2 222.7 665.5 225.0 664.9C227.3 664.2 229.6 663.6 232.0 663.0C234.3 662.3 236.7 661.7 239.0 661.1C241.4 660.5 243.7 659.9 246.1 659.3C248.5 658.7 250.8 658.1 253.2 657.5C255.6 656.9 258.0 656.3 260.3 655.7C262.7 655.2 265.1 654.6 267.4 654.0C269.8 653.5 272.1 652.9 274.5 652.4C276.8 651.8 279.2 651.3 281.5 650.8C283.9 650.2 286.2 649.7 288.5 649.2C290.8 648.7 293.1 648.2 295.4 647.7C297.7 647.2 300.0 646.7 302.3 646.2C304.6 645.8 306.8 645.3 309.1 644.8C311.4 644.3 313.6 643.9 315.9 643.4C318.2 643.0 320.4 642.5 322.7 642.1C324.9 641.6 327.2 641.2 329.4 640.7C331.7 640.3 334.0 639.8 336.2 639.4C338.5 638.9 340.7 638.5 343.0 638.0C345.3 637.6 347.5 637.2 349.8 636.7C352.1 636.3 354.3 635.8 356.6 635.4C358.9 634.9 361.2 634.5 363.5 634.0C365.8 633.6 368.1 633.1 370.5 632.7C372.8 632.2 375.1 631.8 377.5 631.3C379.8 630.8 382.2 630.4 384.5 629.9C386.9 629.4 389.3 628.9 391.7 628.4C394.1 627.9 396.5 627.4 398.9 626.9C401.3 626.4 403.7 625.9 406.1 625.3C408.5 624.8 411.0 624.2 413.4 623.6C415.8 623.1 418.2 622.5 420.6 621.9C423.0 621.2 425.4 620.6 427.8 619.9C430.2 619.3 432.5 618.6 434.9 617.8C437.3 617.1 439.6 616.4 441.9 615.6C444.2 614.8 446.5 614.0 448.8 613.2C451.1 612.3 453.4 611.4 455.6 610.5C457.8 609.6 460.0 608.6 462.2 607.6C464.4 606.6 466.5 605.6 468.6 604.5C470.7 603.4 472.8 602.3 474.8 601.1C476.8 599.9 478.8 598.7 480.7 597.4C482.7 596.2 484.6 594.9 486.5 593.5C488.3 592.1 490.2 590.7 492.0 589.3C493.8 587.9 495.6 586.4 497.3 584.9C499.0 583.4 500.7 581.8 502.4 580.2C504.1 578.6 505.7 577.0 507.3 575.3C508.9 573.7 510.4 572.0 512.0 570.2C513.5 568.5 515.0 566.7 516.5 564.9C518.0 563.2 519.4 561.3 520.8 559.5C522.3 557.6 523.6 555.7 525.0 553.8C526.4 551.9 527.7 550.0 529.0 548.0C530.3 546.1 531.6 544.1 532.8 542.1C534.1 540.1 535.3 538.1 536.5 536.0C537.7 534.0 538.9 531.9 540.0 529.8C541.2 527.7 542.3 525.6 543.4 523.5C544.5 521.3 545.6 519.2 546.7 517.1C547.7 514.9 548.8 512.7 549.8 510.5C550.8 508.4 551.8 506.2 552.8 504.0C553.8 501.7 554.8 499.5 555.7 497.3C556.6 495.1 557.6 492.8 558.5 490.6C559.4 488.3 560.3 486.1 561.2 483.8C562.0 481.6 562.9 479.3 563.7 477.1C564.6 474.8 565.4 472.5 566.2 470.3C567.1 468.0 567.9 465.7 568.6 463.5C569.4 461.2 570.2 458.9 571.0 456.6C571.7 454.4 572.5 452.1 573.2 449.8C574.0 447.6 574.7 445.3 575.4 443.0C576.1 440.7 576.8 438.4 577.5 436.2C578.2 433.9 578.9 431.6 579.6 429.3C580.2 427.1 580.9 424.8 581.6 422.5C582.2 420.2 582.8 417.9 583.5 415.6C584.1 413.3 584.7 411.1 585.3 408.8C586.0 406.5 586.6 404.2 587.2 401.9C587.8 399.6 588.3 397.3 588.9 395.0C589.5 392.7 590.1 390.4 590.6 388.2C591.2 385.9 591.8 383.6 592.3 381.3C592.9 379.0 593.4 376.7 594.0 374.4C594.5 372.1 595.0 369.8 595.6 367.5C596.1 365.2 596.6 362.9 597.2 360.6C597.7 358.3 598.2 356.0 598.7 353.6C599.2 351.3 599.7 349.0 600.2 346.7C600.7 344.4 601.2 342.1 601.7 339.8C602.2 337.5 602.7 335.2 603.2 332.9C603.7 330.5 604.2 328.2 604.7 325.9C605.2 323.6 605.7 321.3 606.1 319.0C606.6 316.6 607.1 314.3 607.6 312.0C608.1 309.7 608.6 307.4 609.0 305.0C609.5 302.7 610.0 300.4 610.5 298.1C611.0 295.7 611.4 293.4 611.9 291.1C612.4 288.8 612.9 286.4 613.4 284.1C613.9 281.8 614.4 279.4 614.9 277.1C615.3 274.8 615.8 272.4 616.3 270.1C616.8 267.8 617.3 265.4 617.8 263.1C618.3 260.7 618.8 258.4 619.3 256.1C619.9 253.7 620.4 251.4 620.9 249.1C621.4 246.7 621.9 244.4 622.4 242.1C623.0 239.7 623.5 237.4 624.0 235.0C624.6 232.7 625.1 230.4 625.7 228.1C626.2 225.7 626.7 223.4 627.3 221.1C627.9 218.7 628.4 216.4 629.0 214.1C629.6 211.8 630.1 209.5 630.7 207.2C631.3 204.8 631.9 202.5 632.5 200.2C633.1 197.9 633.7 195.6 634.3 193.3C635.0 191.0 635.6 188.7 636.2 186.4C636.8 184.1 637.5 181.8 638.1 179.6C638.8 177.3 639.4 175.0 640.1 172.7C640.8 170.5 641.5 168.2 642.2 165.9C642.8 163.7 643.5 161.4 644.3 159.2C645.0 156.9 645.7 154.7 646.5 152.5C647.2 150.2 648.0 148.0 648.8 145.8C649.6 143.6 650.4 141.4 651.3 139.2C652.1 137.0 653.0 134.8 654.0 132.6C654.9 130.4 655.9 128.3 656.9 126.1C658.0 124.0 659.1 121.8 660.2 119.7C661.4 117.6 662.5 115.4 663.8 113.4C665.2 111.3 666.5 109.2 668.1 107.4C669.6 105.5 671.4 103.7 673.2 102.2C675.1 100.7 677.2 99.3 679.3 98.4C681.4 97.6 683.6 97.0 685.8 97.0C687.9 97.0 690.0 97.5 692.0 98.4C694.1 99.3 696.1 100.7 698.0 102.1C699.9 103.6 701.7 105.4 703.4 107.1C705.2 108.9 706.8 110.7 708.4 112.6C710.0 114.5 711.5 116.4 712.9 118.3C714.4 120.3 715.7 122.3 717.0 124.3C718.4 126.3 719.6 128.4 720.9 130.4C722.1 132.5 723.3 134.6 724.5 136.7C725.6 138.8 726.8 140.9 727.9 143.0C729.0 145.1 730.1 147.2 731.2 149.4C732.4 151.5 733.5 153.6 734.6 155.7C735.7 157.8 736.9 159.9 738.0 162.0C739.2 164.1 740.4 166.1 741.6 168.2C742.8 170.2 744.1 172.2 745.4 174.2C746.6 176.2 747.9 178.2 749.3 180.1C750.6 182.1 751.9 184.0 753.3 185.9C754.7 187.9 756.1 189.8 757.5 191.6C759.0 193.5 760.4 195.4 761.9 197.2C763.4 199.1 764.9 200.9 766.4 202.7C767.9 204.5 769.4 206.3 771.0 208.0C772.6 209.8 774.2 211.6 775.8 213.3C777.4 215.0 779.0 216.7 780.6 218.4C782.3 220.1 784.0 221.8 785.6 223.4C787.3 225.1 789.0 226.7 790.8 228.4C792.5 230.0 794.2 231.6 796.0 233.2C797.8 234.7 799.5 236.3 801.3 237.9C803.1 239.4 804.9 240.9 806.8 242.5C808.6 244.0 810.4 245.5 812.3 247.0C814.2 248.4 816.0 249.9 817.9 251.4C819.8 252.8 821.7 254.2 823.6 255.6C825.5 257.1 827.5 258.5 829.4 259.8C831.3 261.2 833.3 262.6 835.3 263.9C837.2 265.3 839.2 266.6 841.2 267.9C843.2 269.3 845.2 270.6 847.2 271.9C849.2 273.1 851.2 274.4 853.2 275.7C855.3 276.9 857.3 278.2 859.3 279.4C861.4 280.6 863.4 281.8 865.5 283.0C867.6 284.2 869.6 285.4 871.7 286.6C873.8 287.7 875.9 288.9 878.0 290.1C880.0 291.2 882.1 292.3 884.2 293.4C886.3 294.6 888.4 295.7 890.6 296.8C892.7 297.9 894.8 299.0 896.9 300.1C899.0 301.1 901.2 302.2 903.3 303.3C905.4 304.3 907.5 305.4 909.7 306.5C911.8 307.5 914.0 308.5 916.1 309.6C918.2 310.6 920.4 311.7 922.5 312.7C924.7 313.7 926.8 314.7 929.0 315.8C931.1 316.8 933.3 317.8 935.4 318.8C937.6 319.8 939.7 320.8 941.9 321.8C944.1 322.8 946.2 323.8 948.4 324.9C950.5 325.9 952.7 326.9 954.8 327.9C957.0 328.9 959.1 329.9 961.3 330.9C963.4 331.9 965.6 332.9 967.7 333.9C969.9 334.9 972.0 335.9 974.2 336.9C976.3 337.9 978.5 338.9 980.6 339.9C982.8 340.9 984.9 341.9 987.1 342.9C989.2 343.9 991.4 344.9 993.5 345.9C995.7 346.8 997.9 347.8 1000.0 348.8C1002.2 349.7 1004.4 350.7 1006.6 351.6C1008.8 352.6 1011.0 353.5 1013.2 354.4C1015.4 355.3 1017.6 356.2 1019.8 357.1C1022.0 358.0 1024.9 359.1 1026.5 359.8C1028.0 360.4 1028.2 360.5 1029.3 360.9C1030.4 361.3 1032.4 361.9 1033.1 362.2C1033.7 362.4 1032.6 362.1 1033.2 362.2C1033.8 362.3 1035.7 362.8 1036.9 362.9C1038.0 363.0 1039.5 362.9 1040.2 362.8C1040.8 362.8 1040.0 362.9 1040.8 362.8C1041.6 362.7 1043.7 362.4 1044.8 362.3C1045.9 362.2 1046.7 362.2 1047.4 362.2C1048.0 362.2 1047.9 362.1 1048.8 362.3C1049.7 362.5 1051.7 363.0 1052.6 363.3C1053.5 363.6 1053.7 363.7 1054.2 364.1C1054.7 364.4 1055.2 364.7 1055.9 365.4C1056.6 366.2 1057.8 367.9 1058.2 368.6C1058.7 369.3 1058.4 368.9 1058.7 369.5C1059.0 370.2 1059.5 371.3 1059.8 372.4C1060.2 373.5 1060.7 375.6 1060.9 376.2C1061.0 376.9 1060.8 375.8 1060.9 376.5C1061.0 377.1 1061.3 378.9 1061.5 380.1C1061.7 381.2 1061.8 382.8 1061.9 383.4C1061.9 384.1 1061.9 383.2 1061.9 383.9C1062.0 384.7 1062.2 386.8 1062.3 387.9C1062.4 389.0 1062.4 389.9 1062.5 390.5C1062.5 391.2 1062.5 391.0 1062.6 391.8C1062.6 392.7 1062.8 394.9 1062.8 395.9C1062.9 396.9 1062.9 397.1 1062.9 397.8C1062.9 398.4 1062.9 398.9 1062.9 399.9C1062.9 400.9 1062.9 403.0 1062.9 403.9C1062.9 404.8 1062.9 404.4 1062.9 405.0C1062.8 405.7 1062.8 406.7 1062.7 407.9C1062.6 409.0 1062.4 411.1 1062.4 411.8C1062.3 412.5 1062.4 411.5 1062.3 412.2C1062.2 412.8 1062.0 414.6 1061.8 415.7C1061.7 416.9 1061.4 418.6 1061.3 419.2C1061.2 419.9 1061.3 418.9 1061.2 419.6C1061.0 420.3 1060.6 422.4 1060.4 423.5C1060.1 424.6 1059.9 425.5 1059.8 426.1C1059.6 426.8 1059.7 426.5 1059.4 427.3C1059.2 428.1 1058.6 430.1 1058.4 431.1C1058.1 432.0 1058.0 432.3 1057.8 432.9C1057.6 433.6 1057.5 433.9 1057.2 434.8C1056.8 435.7 1056.1 437.7 1055.8 438.5C1055.5 439.3 1055.6 439.0 1055.4 439.6C1055.2 440.2 1054.8 441.1 1054.4 442.2C1053.9 443.2 1053.1 445.1 1052.8 445.8C1052.5 446.4 1052.9 445.6 1052.6 446.2C1052.4 446.8 1051.7 448.3 1051.1 449.3C1050.6 450.4 1049.8 452.0 1049.5 452.6C1049.2 453.2 1049.7 452.2 1049.3 452.9C1049.0 453.5 1048.0 455.4 1047.5 456.4C1046.9 457.3 1046.4 458.3 1046.1 458.8C1045.7 459.4 1045.9 459.1 1045.5 459.8C1045.0 460.5 1044.0 462.3 1043.4 463.2C1042.9 464.0 1042.7 464.4 1042.3 464.9C1041.9 465.5 1041.8 465.7 1041.3 466.5C1040.7 467.3 1039.5 469.1 1039.0 469.8C1038.5 470.5 1038.7 470.3 1038.3 470.9C1037.9 471.4 1037.4 472.2 1036.7 473.1C1036.1 473.9 1034.8 475.6 1034.3 476.2C1033.9 476.8 1034.4 476.1 1034.0 476.7C1033.6 477.2 1032.6 478.4 1031.9 479.4C1031.2 480.3 1030.0 481.8 1029.6 482.3C1029.1 482.8 1030.2 481.6 1029.4 482.5C1028.6 483.4 1026.5 486.0 1024.9 487.7C1023.4 489.5 1021.7 491.2 1020.1 493.0C1018.5 494.7 1016.8 496.4 1015.1 498.1C1013.4 499.7 1011.7 501.4 1010.0 503.0C1008.3 504.6 1006.5 506.2 1004.7 507.8C1003.0 509.4 1001.2 511.0 999.4 512.5C997.5 514.0 995.7 515.5 993.9 517.0C992.0 518.5 990.2 520.0 988.3 521.5C986.4 522.9 984.5 524.4 982.6 525.8C980.7 527.2 978.8 528.7 976.8 530.1C974.9 531.5 973.0 532.8 971.0 534.2C969.1 535.6 967.1 536.9 965.1 538.3C963.2 539.6 961.2 541.0 959.2 542.3C957.2 543.6 955.3 544.9 953.3 546.2C951.3 547.6 949.3 548.9 947.3 550.1C945.3 551.4 943.3 552.7 941.3 554.0C939.3 555.3 937.2 556.5 935.2 557.8C933.2 559.0 931.2 560.3 929.1 561.5C927.1 562.7 925.1 563.9 923.0 565.1C921.0 566.4 918.9 567.6 916.9 568.8C914.8 569.9 912.8 571.1 910.7 572.3C908.6 573.5 906.6 574.6 904.5 575.8C902.4 576.9 900.3 578.1 898.3 579.2C896.2 580.3 894.1 581.5 892.0 582.6C889.9 583.7 887.8 584.8 885.7 585.9C883.6 587.0 881.5 588.1 879.4 589.1C877.3 590.2 875.1 591.3 873.0 592.4C870.9 593.4 868.8 594.5 866.6 595.5C864.5 596.6 862.4 597.6 860.2 598.6C858.1 599.7 856.0 600.7 853.8 601.7C851.7 602.8 849.6 603.8 847.4 604.8C845.3 605.9 843.1 606.9 841.0 607.9C838.9 609.0 836.7 610.0 834.6 611.0C832.4 612.1 830.3 613.1 828.1 614.1C826.0 615.2 823.9 616.2 821.7 617.3C819.6 618.3 817.4 619.4 815.3 620.5C813.2 621.5 811.0 622.6 808.9 623.7C806.8 624.8 804.6 625.9 802.5 627.0C800.4 628.1 798.3 629.2 796.2 630.3C794.0 631.4 791.9 632.6 789.9 633.8C787.8 634.9 785.7 636.1 783.6 637.3C781.5 638.5 779.5 639.7 777.4 640.9C775.4 642.2 773.4 643.4 771.4 644.7C769.4 646.0 767.4 647.3 765.4 648.6C763.5 649.9 761.5 651.3 759.6 652.7C757.7 654.0 755.8 655.5 753.9 656.9C752.0 658.3 750.2 659.8 748.4 661.3C746.5 662.8 744.7 664.3 743.0 665.9C741.2 667.5 739.5 669.1 737.8 670.7C736.1 672.3 734.4 674.0 732.8 675.7C731.2 677.4 729.6 679.2 728.0 681.0C726.5 682.8 724.9 684.6 723.5 686.4C722.0 688.3 720.5 690.1 719.1 692.0C717.6 693.9 716.2 695.9 714.8 697.8C713.4 699.8 712.1 701.7 710.8 703.7C709.4 705.7 708.1 707.7 706.9 709.7C705.6 711.8 704.3 713.8 703.1 715.8C701.9 717.9 700.7 719.9 699.5 722.0C698.3 724.1 697.2 726.1 696.0 728.2C694.9 730.3 693.8 732.4 692.7 734.5C691.6 736.6 690.5 738.7 689.4 740.9C688.4 743.0 687.3 745.1 686.3 747.3C685.3 749.4 684.3 751.5 683.3 753.7C682.3 755.9 681.3 758.0 680.4 760.2C679.4 762.4 678.5 764.5 677.6 766.7C676.7 768.9 675.8 771.1 674.9 773.3C674.0 775.5 673.1 777.7 672.3 779.9C671.4 782.1 670.6 784.4 669.8 786.6C668.9 788.8 668.1 791.0 667.3 793.3C666.5 795.5 665.7 797.8 665.0 800.0C664.2 802.2 663.4 804.5 662.7 806.8C661.9 809.0 661.2 811.3 660.5 813.5C659.7 815.8 659.0 818.1 658.3 820.4C657.6 822.6 656.9 824.9 656.2 827.2C655.5 829.5 654.8 831.8 654.2 834.0C653.5 836.3 652.8 838.6 652.2 840.9C651.5 843.2 650.9 845.5 650.3 847.8C649.6 850.1 649.0 852.4 648.4 854.7C647.7 857.0 647.1 859.3 646.5 861.6C645.9 863.9 645.3 866.2 644.7 868.5C644.1 870.9 643.4 873.2 642.9 875.5C642.3 877.8 641.7 880.1 641.1 882.4C640.5 884.7 639.9 887.0 639.3 889.4C638.7 891.7 638.1 894.0 637.5 896.3C637.0 898.6 636.4 900.9 635.8 903.2C635.2 905.5 634.6 907.8 634.0 910.2C633.5 912.5 632.9 914.8 632.3 917.1C631.7 919.4 631.1 921.7 630.5 924.0C630.0 926.3 629.4 928.6 628.8 930.9C628.2 933.2 627.6 935.5 627.0 937.8C626.4 940.1 625.8 942.4 625.2 944.7C624.6 946.9 624.0 949.2 623.4 951.5C622.9 953.8 622.3 956.1 621.7 958.4C621.1 960.7 620.5 963.0 619.9 965.3C619.3 967.6 618.7 969.8 618.1 972.1C617.5 974.4 616.9 976.7 616.2 979.0C615.6 981.3 615.0 983.6 614.4 985.9C613.8 988.1 613.2 990.4 612.6 992.7C612.0 995.0 611.4 997.3 610.8 999.6C610.2 1001.9 609.6 1004.1 609.0 1006.4C608.4 1008.7 607.8 1011.0 607.2 1013.3C606.6 1015.6 606.0 1017.9 605.3 1020.2C604.7 1022.5 604.1 1024.8 603.5 1027.1C602.9 1029.3 602.3 1031.6 601.7 1033.9C601.1 1036.2 600.5 1038.5 599.9 1040.8C599.3 1043.1 598.7 1045.4 598.1 1047.7C597.5 1050.0 596.9 1052.3 596.2 1054.7C595.6 1057.0 595.0 1059.3 594.4 1061.6C593.8 1063.9 593.2 1066.2 592.6 1068.5C592.0 1070.8 591.4 1073.2 590.8 1075.5C590.2 1077.8 589.6 1080.1 589.0 1082.4C588.4 1084.8 587.8 1087.1 587.2 1089.4C586.6 1091.8 586.0 1094.1 585.4 1096.4C584.8 1098.8 584.2 1101.1 583.6 1103.5C583.0 1105.8 582.4 1108.2 581.8 1110.5C581.2 1112.8 580.6 1115.2 580.0 1117.5C579.3 1119.8 578.7 1122.2 578.0 1124.5C577.3 1126.8 576.6 1129.1 575.9 1131.4C575.2 1133.6 574.4 1135.9 573.6 1138.1C572.8 1140.3 571.9 1142.6 571.0 1144.7C570.1 1146.9 569.1 1149.1 568.1 1151.2C567.1 1153.3 566.0 1155.3 564.8 1157.4C563.7 1159.4 562.4 1161.4 561.1 1163.3C559.8 1165.3 558.4 1167.2 557.0 1169.0C555.5 1170.9 554.0 1172.8 552.3 1174.4C550.6 1176.0 548.9 1178.0 547.0 1178.8C545.0 1179.6 542.7 1179.6 540.6 1179.0C538.4 1178.4 536.1 1176.8 534.1 1175.5C532.2 1174.1 530.4 1172.5 528.8 1170.9C527.2 1169.2 525.7 1167.4 524.4 1165.5C523.0 1163.7 521.8 1161.7 520.6 1159.6C519.4 1157.6 518.3 1155.5 517.2 1153.4C516.1 1151.3 515.1 1149.2 514.0 1147.1C513.0 1144.9 511.9 1142.8 510.8 1140.7C509.8 1138.5 508.7 1136.4 507.6 1134.2C506.6 1132.1 505.5 1130.0 504.5 1127.8C503.4 1125.7 502.3 1123.5 501.3 1121.4C500.2 1119.2 499.1 1117.1 498.1 1114.9C497.0 1112.8 495.9 1110.6 494.8 1108.5C493.7 1106.3 492.7 1104.2 491.6 1102.0C490.5 1099.9 489.4 1097.7 488.3 1095.6C487.2 1093.5 486.1 1091.3 485.0 1089.2C483.9 1087.0 482.8 1084.9 481.7 1082.8C480.5 1080.7 479.4 1078.5 478.3 1076.4C477.1 1074.3 476.0 1072.2 474.8 1070.1C473.7 1068.0 472.5 1065.9 471.3 1063.8C470.2 1061.7 469.0 1059.6 467.8 1057.6C466.6 1055.5 465.4 1053.4 464.2 1051.4C463.0 1049.3 461.7 1047.3 460.5 1045.2C459.2 1043.2 458.0 1041.2 456.7 1039.2C455.5 1037.2 454.2 1035.2 452.9 1033.2C451.6 1031.2 450.3 1029.2 449.0 1027.2C447.6 1025.3 446.3 1023.3 444.9 1021.4C443.6 1019.5 442.2 1017.5 440.8 1015.6C439.5 1013.7 438.0 1011.8 436.6 1010.0C435.2 1008.1 433.8 1006.2 432.3 1004.4C430.9 1002.5 429.4 1000.7 427.9 998.9C426.4 997.1 424.9 995.3 423.3 993.5C421.8 991.8 420.2 990.0 418.7 988.3C417.1 986.6 415.5 984.8 413.9 983.1C412.2 981.5 410.6 979.8 408.9 978.1C407.3 976.5 405.6 974.9 403.9 973.3C402.2 971.7 400.4 970.1 398.7 968.5C396.9 967.0 395.1 965.4 393.3 963.9C391.5 962.4 389.7 960.9 387.8 959.4C386.0 957.9 384.1 956.5 382.2 955.1C380.4 953.6 378.5 952.2 376.5 950.8C374.6 949.5 372.7 948.1 370.7 946.8C368.7 945.4 366.8 944.1 364.8 942.8C362.8 941.5 360.8 940.2 358.7 938.9C356.7 937.7 354.7 936.4 352.6 935.2C350.5 934.0 348.5 932.8 346.4 931.6C344.3 930.4 342.2 929.3 340.1 928.1C338.0 927.0 335.8 925.9 333.7 924.8C331.6 923.7 329.4 922.6 327.2 921.5C325.1 920.5 322.9 919.4 320.7 918.4C318.5 917.4 316.3 916.3 314.1 915.4C311.9 914.4 309.7 913.4 307.5 912.5C305.3 911.5 303.0 910.6 300.8 909.7C298.6 908.7 296.3 907.8 294.1 907.0C291.8 906.1 289.6 905.2 287.3 904.4C285.0 903.5 282.8 902.7 280.5 901.9C278.2 901.1 275.9 900.3 273.7 899.5C271.4 898.8 269.1 898.0 266.8 897.3C264.5 896.5 262.2 895.8 259.9 895.1C257.7 894.4 255.4 893.7 253.1 893.0C250.8 892.4 248.5 891.7 246.2 891.1C243.9 890.4 241.6 889.8 239.3 889.2C237.0 888.6 234.7 888.0 232.4 887.4C230.1 886.8 227.9 886.3 225.6 885.7C223.3 885.2 221.0 884.7 218.7 884.1C216.5 883.6 214.2 883.1 211.9 882.6C209.6 882.2 207.4 881.7 205.1 881.2C202.9 880.8 200.6 880.3 198.4 879.9C196.1 879.5 192.8 878.9 191.7 878.7" stroke-opacity="1.0"/>
</g>
<g id="left-labels">
<text x="55.9" y="158.8" font-size="45.5" textLength="89.0" lengthAdjust="spacingAndGlyphs">0.10</text>
<text x="55.9" y="378.2" font-size="45.5" textLength="89.3" lengthAdjust="spacingAndGlyphs">0.06</text>
<text x="55.9" y="597.7" font-size="45.5" textLength="89.6" lengthAdjust="spacingAndGlyphs">0.02</text>
<text x="28.6" y="817.1" font-size="45.5" textLength="116.9" lengthAdjust="spacingAndGlyphs">−0.02</text>
<text x="28.6" y="1036.6" font-size="45.5" textLength="116.6" lengthAdjust="spacingAndGlyphs">−0.06</text>
<text x="28.6" y="1256.0" font-size="45.5" textLength="116.3" lengthAdjust="spacingAndGlyphs">−0.10</text>
<text x="129.9" y="772.0" font-size="45.5" textLength="106.4" lengthAdjust="spacingAndGlyphs">−100</text>
<text x="366.6" y="772.0" font-size="45.5" textLength="75.4" lengthAdjust="spacingAndGlyphs">100</text>
<text x="578.9" y="772.0" font-size="45.5" textLength="76.5" lengthAdjust="spacingAndGlyphs">300</text>
<text x="793.1" y="772.0" font-size="45.5" textLength="77.0" lengthAdjust="spacingAndGlyphs">500</text>
<text x="1008.2" y="772.0" font-size="45.5" textLength="73.8" lengthAdjust="spacingAndGlyphs">700</text>
<text x="217.9" y="72.0" font-size="44.6" class="b" textLength="109.2" lengthAdjust="spacingAndGlyphs">i, mA</text>
<text x="801.6" y="855.4" font-size="44.6" class="b" textLength="35.1" lengthAdjust="spacingAndGlyphs">E,</text>
<text x="848.3" y="855.4" font-size="44.6" class="b" textLength="69.7" lengthAdjust="spacingAndGlyphs">mV</text>
<text x="930.6" y="855.4" font-size="44.6" class="b" textLength="43.0" lengthAdjust="spacingAndGlyphs">vs</text>
<text x="984.7" y="855.4" font-size="44.6" class="b" textLength="167.6" lengthAdjust="spacingAndGlyphs">Ag/AgCl</text>
<text x="335.0" y="158.9" font-size="44.6" class="b" textLength="103.0" lengthAdjust="spacingAndGlyphs">1 V s</text>
<text x="436.9" y="143.5" font-size="28.5" class="b" textLength="34.9" lengthAdjust="spacingAndGlyphs">−1</text>
<text x="329.2" y="251.2" font-size="44.6" class="b" textLength="63.8" lengthAdjust="spacingAndGlyphs">0.5</text>
<text x="329.9" y="350.0" font-size="44.6" class="b" textLength="64.7" lengthAdjust="spacingAndGlyphs">0.2</text>
<text x="331.0" y="452.3" font-size="44.6" class="b" textLength="64.2" lengthAdjust="spacingAndGlyphs">0.1</text>
<text x="328.8" y="557.0" font-size="44.6" class="b" textLength="89.2" lengthAdjust="spacingAndGlyphs">0.05</text>
</g>
<g id="right-axes" stroke="#000" stroke-width="6.9" fill="none">
<line x1="1907.8" y1="43.5" x2="1907.8" y2="1174.6"/>
<line x1="1896.3" y1="1111.8" x2="1907.8" y2="1111.8" stroke-width="6.6"/>
<line x1="1892" y1="1048.9" x2="1907.8" y2="1048.9" stroke-width="6.6"/>
<line x1="1896.3" y1="986.1" x2="1907.8" y2="986.1" stroke-width="6.6"/>
<line x1="1892" y1="923.3" x2="1907.8" y2="923.3" stroke-width="6.6"/>
<line x1="1896.3" y1="860.4" x2="1907.8" y2="860.4" stroke-width="6.6"/>
<line x1="1892" y1="797.6" x2="1907.8" y2="797.6" stroke-width="6.6"/>
<line x1="1896.3" y1="734.7" x2="1907.8" y2="734.7" stroke-width="6.6"/>
<line x1="1892" y1="671.9" x2="1907.8" y2="671.9" stroke-width="6.6"/>
<line x1="1896.3" y1="609.1" x2="1907.8" y2="609.1" stroke-width="6.6"/>
<line x1="1892" y1="546.2" x2="1907.8" y2="546.2" stroke-width="6.6"/>
<line x1="1896.3" y1="483.4" x2="1907.8" y2="483.4" stroke-width="6.6"/>
<line x1="1892" y1="420.5" x2="1907.8" y2="420.5" stroke-width="6.6"/>
<line x1="1896.3" y1="357.7" x2="1907.8" y2="357.7" stroke-width="6.6"/>
<line x1="1892" y1="294.9" x2="1907.8" y2="294.9" stroke-width="6.6"/>
<line x1="1896.3" y1="232.0" x2="1907.8" y2="232.0" stroke-width="6.6"/>
<line x1="1892" y1="169.2" x2="1907.8" y2="169.2" stroke-width="6.6"/>
<line x1="1896.3" y1="106.3" x2="1907.8" y2="106.3" stroke-width="6.6"/>
<line x1="1892" y1="43.5" x2="1907.8" y2="43.5" stroke-width="6.6"/>
<line x1="1386.3" y1="1174.8" x2="2429.3" y2="1174.8"/>
<line x1="1386.3" y1="1174.8" x2="1386.3" y2="1190.7" stroke-width="6.6"/>
<line x1="1438.5" y1="1174.8" x2="1438.5" y2="1186.8" stroke-width="6.6"/>
<line x1="1490.6" y1="1174.8" x2="1490.6" y2="1186.8" stroke-width="6.6"/>
<line x1="1542.8" y1="1174.8" x2="1542.8" y2="1186.8" stroke-width="6.6"/>
<line x1="1594.9" y1="1174.8" x2="1594.9" y2="1186.8" stroke-width="6.6"/>
<line x1="1647.0" y1="1174.8" x2="1647.0" y2="1190.7" stroke-width="6.6"/>
<line x1="1699.2" y1="1174.8" x2="1699.2" y2="1186.8" stroke-width="6.6"/>
<line x1="1751.3" y1="1174.8" x2="1751.3" y2="1186.8" stroke-width="6.6"/>
<line x1="1803.5" y1="1174.8" x2="1803.5" y2="1186.8" stroke-width="6.6"/>
<line x1="1855.6" y1="1174.8" x2="1855.6" y2="1186.8" stroke-width="6.6"/>
<line x1="1907.8" y1="1174.8" x2="1907.8" y2="1190.7" stroke-width="6.6"/>
<line x1="1960.0" y1="1174.8" x2="1960.0" y2="1186.8" stroke-width="6.6"/>
<line x1="2012.1" y1="1174.8" x2="2012.1" y2="1186.8" stroke-width="6.6"/>
<line x1="2064.2" y1="1174.8" x2="2064.2" y2="1186.8" stroke-width="6.6"/>
<line x1="2116.4" y1="1174.8" x2="2116.4" y2="1186.8" stroke-width="6.6"/>
<line x1="2168.6" y1="1174.8" x2="2168.6" y2="1190.7" stroke-width="6.6"/>
<line x1="2220.7" y1="1174.8" x2="2220.7" y2="1186.8" stroke-width="6.6"/>
<line x1="2272.8" y1="1174.8" x2="2272.8" y2="1186.8" stroke-width="6.6"/>
<line x1="2325.0" y1="1174.8" x2="2325.0" y2="1186.8" stroke-width="6.6"/>
<line x1="2377.2" y1="1174.8" x2="2377.2" y2="1186.8" stroke-width="6.6"/>
<line x1="2429.3" y1="1174.8" x2="2429.3" y2="1190.7" stroke-width="6.6"/>
</g>
<g id="markers" stroke="#3b5673" stroke-width="5.15" fill="none">
<circle cx="2008.4" cy="351.4" r="10.95"/>
<circle cx="2051.4" cy="326.3" r="10.95"/>
<circle cx="2115.9" cy="288.6" r="10.95"/>
<circle cx="2234.2" cy="219.5" r="10.95"/>
<circle cx="2352.5" cy="150.3" r="10.95"/>
<circle cx="1458.4" cy="979.8" r="10.95"/>
<circle cx="1573.5" cy="920.1" r="10.95"/>
<circle cx="1704.1" cy="854.1" r="10.95"/>
<circle cx="1766.1" cy="822.7" r="10.95"/>
<circle cx="1806.5" cy="803.9" r="10.95"/>
</g>
<g id="trend" stroke="#ff0000" stroke-width="3.7" stroke-dasharray="12.9 16.1" stroke-linecap="round" fill="none">
<line x1="1906.4" y1="411.0" x2="2369.8" y2="140.2"/>
<line x1="1443.9" y1="986.5" x2="1897.1" y2="757.0"/>
</g>
<g id="right-labels">
<text x="1785.7" y="1189.5" font-size="45.5" textLength="76.2" lengthAdjust="spacingAndGlyphs">200</text>
<text x="1785.7" y="1063.8" font-size="45.5" textLength="76.2" lengthAdjust="spacingAndGlyphs">220</text>
<text x="1785.7" y="938.2" font-size="45.5" textLength="76.2" lengthAdjust="spacingAndGlyphs">240</text>
<text x="1785.7" y="812.5" font-size="45.5" textLength="76.2" lengthAdjust="spacingAndGlyphs">260</text>
<text x="1785.7" y="686.8" font-size="45.5" textLength="76.2" lengthAdjust="spacingAndGlyphs">280</text>
<text x="1786.3" y="561.1" font-size="45.5" textLength="75.7" lengthAdjust="spacingAndGlyphs">300</text>
<text x="1786.3" y="435.4" font-size="45.5" textLength="75.7" lengthAdjust="spacingAndGlyphs">320</text>
<text x="1786.3" y="309.8" font-size="45.5" textLength="75.7" lengthAdjust="spacingAndGlyphs">340</text>
<text x="1786.3" y="184.1" font-size="45.5" textLength="75.7" lengthAdjust="spacingAndGlyphs">360</text>
<text x="1786.3" y="58.4" font-size="45.5" textLength="75.7" lengthAdjust="spacingAndGlyphs">380</text>
<text x="1318.7" y="1253.6" font-size="45.5" textLength="121.2" lengthAdjust="spacingAndGlyphs">−0.10</text>
<text x="1580.4" y="1253.6" font-size="45.5" textLength="118.3" lengthAdjust="spacingAndGlyphs">−0.05</text>
<text x="1864.1" y="1253.6" font-size="45.5" textLength="87.8" lengthAdjust="spacingAndGlyphs">0.00</text>
<text x="2123.8" y="1253.6" font-size="45.5" textLength="87.5" lengthAdjust="spacingAndGlyphs">0.05</text>
<text x="2384.7" y="1253.6" font-size="45.5" textLength="88.3" lengthAdjust="spacingAndGlyphs">0.10</text>
<text x="1937.5" y="83.2" font-size="44.6" class="b" textLength="144.1" lengthAdjust="spacingAndGlyphs">Ep, mV</text>
<text x="2093.7" y="83.2" font-size="44.6" class="b i" textLength="55.3" lengthAdjust="spacingAndGlyphs">vs.</text>
<text x="2161.5" y="83.2" font-size="44.6" class="b" textLength="167.1" lengthAdjust="spacingAndGlyphs">Ag/AgCl</text>
<text x="2306.1" y="1134.5" font-size="44.6" class="b" textLength="135.1" lengthAdjust="spacingAndGlyphs">Ip, mA</text>
<text x="2099.8" y="352.1" font-size="37.5" stroke-width="0.4" textLength="368.5" lengthAdjust="spacingAndGlyphs">y = 484.89x + 321.65</text>
<text x="2233.3" y="406.2" font-size="37.5" stroke-width="0.4" textLength="22.6" lengthAdjust="spacingAndGlyphs">R</text>
<text x="2257.4" y="392.5" font-size="22.5" stroke-width="0.4" textLength="12.6" lengthAdjust="spacingAndGlyphs">2</text>
<text x="2281.3" y="406.2" font-size="37.5" stroke-width="0.4" textLength="53.7" lengthAdjust="spacingAndGlyphs">= 1</text>
<text x="1293.6" y="811.5" font-size="37.5" stroke-width="0.4" textLength="369.1" lengthAdjust="spacingAndGlyphs">y = 420.46x + 267.32</text>
<text x="1377.2" y="865.4" font-size="37.5" stroke-width="0.4" textLength="22.5" lengthAdjust="spacingAndGlyphs">R</text>
<text x="1400.2" y="850.5" font-size="22.5" stroke-width="0.4" textLength="14.8" lengthAdjust="spacingAndGlyphs">2</text>
<text x="1425.4" y="865.4" font-size="37.5" stroke-width="0.4" textLength="154.3" lengthAdjust="spacingAndGlyphs">= 0.9999</text>
<text x="1939.5" y="464.4" font-size="45.5" textLength="21.6" lengthAdjust="spacingAndGlyphs">E</text>
<text x="1963.0" y="474.9" font-size="26" stroke-width="0.4" textLength="16.3" lengthAdjust="spacingAndGlyphs">p</text>
<text x="1980.4" y="449.6" font-size="28" stroke-width="0.4" textLength="31.2" lengthAdjust="spacingAndGlyphs">ox</text>
<text x="1942.0" y="774.0" font-size="45.5" textLength="21.5" lengthAdjust="spacingAndGlyphs">E</text>
<text x="1965.3" y="784.9" font-size="26" stroke-width="0.4" textLength="16.4" lengthAdjust="spacingAndGlyphs">p</text>
<text x="1981.9" y="758.8" font-size="28" stroke-width="0.4" textLength="45.4" lengthAdjust="spacingAndGlyphs">red</text>
</g>
</svg></body></html>
